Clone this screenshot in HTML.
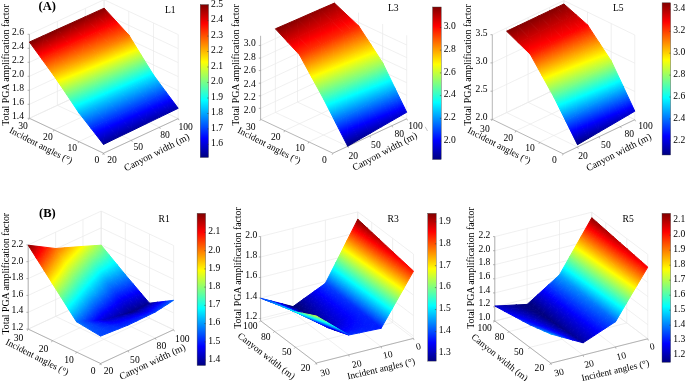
<!DOCTYPE html>
<html><head><meta charset="utf-8"><title>Total PGA amplification factor</title>
<style>html,body{margin:0;padding:0;background:#fff}svg{display:block}text{font-family:"Liberation Serif", "Times New Roman", serif;fill:#000}</style>
</head><body>
<svg width="685" height="381" viewBox="0 0 685 381">
<defs><linearGradient id="jet" gradientUnits="userSpaceOnUse"><stop offset="0" stop-color="#000080"/><stop offset="0.125" stop-color="#0000ff"/><stop offset="0.375" stop-color="#00ffff"/><stop offset="0.625" stop-color="#ffff00"/><stop offset="0.875" stop-color="#ff0000"/><stop offset="1" stop-color="#800000"/></linearGradient>
<linearGradient id="jv" x1="0" y1="1" x2="0" y2="0"><stop offset="0" stop-color="#000080"/><stop offset="0.125" stop-color="#0000ff"/><stop offset="0.375" stop-color="#00ffff"/><stop offset="0.625" stop-color="#ffff00"/><stop offset="0.875" stop-color="#ff0000"/><stop offset="1" stop-color="#800000"/></linearGradient></defs>
<rect width="685" height="381" fill="#fff"/>
<g id="L1">
<path d="M103.5 153.2L29.4 118.3M29.4 118.3L29.4 34.3M131.5 140.2L57.4 105.3M57.4 105.3L57.4 21.3M159.5 127.2L85.4 92.4M85.4 92.4L85.4 8.4M178.2 118.6L104.1 83.7M104.1 83.7L104.1 -0.3M103.5 153.2L178.2 118.6M178.2 118.6L178.2 34.6M78.8 141.6L153.5 107M153.5 107L153.5 23M54.1 129.9L128.8 95.3M128.8 95.3L128.8 11.3M29.4 118.3L104.1 83.7M104.1 83.7L104.1 -0.3M29.4 118.3L104.1 83.7M104.1 83.7L178.2 118.6M29.4 104.3L104.1 69.7M104.1 69.7L178.2 104.6M29.4 90.3L104.1 55.7M104.1 55.7L178.2 90.6M29.4 76.3L104.1 41.7M104.1 41.7L178.2 76.6M29.4 62.3L104.1 27.7M104.1 27.7L178.2 62.6M29.4 48.3L104.1 13.7M104.1 13.7L178.2 48.6M29.4 34.3L104.1 -0.3M104.1 -0.3L178.2 34.6" stroke="#e9e9e9" stroke-width="0.7" fill="none"/>
<path d="M29.4 118.3L29.4 34.3M103.5 153.2L178.2 118.6M103.5 153.2L29.4 118.3M29.4 118.3l-1.8 0M29.4 104.3l-1.8 0M29.4 90.3l-1.8 0M29.4 76.3l-1.8 0M29.4 62.3l-1.8 0M29.4 48.3l-1.8 0M29.4 34.3l-1.8 0M103.5 153.2l0.8 1.6M131.5 140.2l0.8 1.6M159.5 127.2l0.8 1.6M178.2 118.6l0.8 1.6M103.5 153.2l-0.8 1.6M78.8 141.6l-0.8 1.6M54.1 129.9l-0.8 1.6M29.4 118.3l-0.8 1.6" stroke="#969696" stroke-width="0.7" fill="none"/>
<defs><linearGradient id="g1" href="#jet" x1="158.4" y1="151.5" x2="99.8" y2="8.5"/><linearGradient id="g2" href="#jet" x1="164.7" y1="146.5" x2="98.9" y2="9.2"/><linearGradient id="g3" href="#jet" x1="147.4" y1="151.3" x2="90.4" y2="13.1"/><linearGradient id="g4" href="#jet" x1="153.1" y1="146.7" x2="89.6" y2="13.7"/><linearGradient id="g5" href="#jet" x1="157.3" y1="148.5" x2="107.4" y2="5.7"/><linearGradient id="g6" href="#jet" x1="162.7" y1="145" x2="105.7" y2="6.8"/><linearGradient id="g7" href="#jet" x1="146.7" y1="148.5" x2="97.7" y2="10.3"/><linearGradient id="g8" href="#jet" x1="151.7" y1="145.3" x2="96.1" y2="11.3"/><linearGradient id="g9" href="#jet" x1="131.7" y1="153.6" x2="76.2" y2="19.6"/><linearGradient id="g10" href="#jet" x1="136.2" y1="147.8" x2="75.5" y2="20.5"/><linearGradient id="g11" href="#jet" x1="115.7" y1="154.8" x2="62" y2="26.4"/><linearGradient id="g12" href="#jet" x1="119.6" y1="149.7" x2="61.3" y2="27.3"/><linearGradient id="g13" href="#jet" x1="131.3" y1="150.8" x2="83.1" y2="16.6"/><linearGradient id="g14" href="#jet" x1="135.3" y1="146.6" x2="81.6" y2="18.2"/><linearGradient id="g15" href="#jet" x1="115.7" y1="152.3" x2="68.5" y2="23.5"/><linearGradient id="g16" href="#jet" x1="119.2" y1="148.6" x2="67.1" y2="25"/><linearGradient id="g17" href="#jet" x1="99.9" y1="156.7" x2="47.8" y2="33.2"/><linearGradient id="g18" href="#jet" x1="103.4" y1="152.2" x2="47.2" y2="34"/><linearGradient id="g19" href="#jet" x1="84.2" y1="159.2" x2="33.7" y2="39.9"/><linearGradient id="g20" href="#jet" x1="87.4" y1="155.2" x2="33.1" y2="40.7"/><linearGradient id="g21" href="#jet" x1="100.2" y1="154.5" x2="54" y2="30.4"/><linearGradient id="g22" href="#jet" x1="103.2" y1="151.2" x2="52.7" y2="31.9"/><linearGradient id="g23" href="#jet" x1="84.8" y1="157.2" x2="39.5" y2="37.3"/><linearGradient id="g24" href="#jet" x1="87.4" y1="154.2" x2="38.2" y2="38.7"/><linearGradient id="g25" href="#jet" x1="155.6" y1="117.5" x2="112.7" y2="13.8"/><linearGradient id="g26" href="#jet" x1="154.9" y1="118" x2="113.3" y2="13.3"/><linearGradient id="g27" href="#jet" x1="146" y1="121.8" x2="102.9" y2="17.5"/><linearGradient id="g28" href="#jet" x1="145.3" y1="122.4" x2="103.5" y2="17"/><linearGradient id="g29" href="#jet" x1="159.8" y1="116" x2="115.3" y2="12.7"/><linearGradient id="g30" href="#jet" x1="159.3" y1="116.4" x2="116.2" y2="12"/><linearGradient id="g31" href="#jet" x1="150.3" y1="120.4" x2="105.6" y2="16.4"/><linearGradient id="g32" href="#jet" x1="149.8" y1="120.7" x2="106.4" y2="15.7"/><linearGradient id="g33" href="#jet" x1="131.6" y1="128.2" x2="88.2" y2="23.2"/><linearGradient id="g34" href="#jet" x1="130.9" y1="129" x2="88.8" y2="22.5"/><linearGradient id="g35" href="#jet" x1="117.2" y1="134.8" x2="73.5" y2="28.7"/><linearGradient id="g36" href="#jet" x1="116.5" y1="135.6" x2="74.1" y2="28"/><linearGradient id="g37" href="#jet" x1="136" y1="126.8" x2="91" y2="22.1"/><linearGradient id="g38" href="#jet" x1="135.5" y1="127.3" x2="91.8" y2="21.1"/><linearGradient id="g39" href="#jet" x1="121.7" y1="133.3" x2="76.3" y2="27.5"/><linearGradient id="g40" href="#jet" x1="121.3" y1="133.8" x2="77.2" y2="26.5"/><linearGradient id="g41" href="#jet" x1="102.8" y1="141.4" x2="58.8" y2="34.1"/><linearGradient id="g42" href="#jet" x1="102.1" y1="142.2" x2="59.4" y2="33.4"/><linearGradient id="g43" href="#jet" x1="88.4" y1="148" x2="44" y2="39.5"/><linearGradient id="g44" href="#jet" x1="87.7" y1="148.8" x2="44.7" y2="38.7"/><linearGradient id="g45" href="#jet" x1="107.5" y1="139.9" x2="61.7" y2="32.9"/><linearGradient id="g46" href="#jet" x1="107" y1="140.4" x2="62.6" y2="31.9"/><linearGradient id="g47" href="#jet" x1="93.2" y1="146.4" x2="47" y2="38.3"/><linearGradient id="g48" href="#jet" x1="92.8" y1="146.9" x2="48" y2="37.2"/><linearGradient id="g49" href="#jet" x1="166.4" y1="119.1" x2="115.7" y2="1.8"/><linearGradient id="g50" href="#jet" x1="166.2" y1="119.3" x2="116.5" y2="1.2"/><linearGradient id="g51" href="#jet" x1="156.9" y1="123.3" x2="106" y2="5.4"/><linearGradient id="g52" href="#jet" x1="156.7" y1="123.5" x2="106.8" y2="4.8"/><linearGradient id="g53" href="#jet" x1="170.8" y1="117.3" x2="119" y2="0.2"/><linearGradient id="g54" href="#jet" x1="170.8" y1="117.3" x2="120" y2="-0.6"/><linearGradient id="g55" href="#jet" x1="161.4" y1="121.5" x2="109.3" y2="3.8"/><linearGradient id="g56" href="#jet" x1="161.3" y1="121.5" x2="110.3" y2="3.1"/><linearGradient id="g57" href="#jet" x1="142.6" y1="129.6" x2="91.5" y2="11.2"/><linearGradient id="g58" href="#jet" x1="142.4" y1="129.8" x2="92.2" y2="10.3"/><linearGradient id="g59" href="#jet" x1="128.3" y1="135.9" x2="76.9" y2="16.6"/><linearGradient id="g60" href="#jet" x1="128.1" y1="136.1" x2="77.7" y2="15.7"/><linearGradient id="g61" href="#jet" x1="147.2" y1="127.8" x2="94.9" y2="9.6"/><linearGradient id="g62" href="#jet" x1="147.1" y1="127.8" x2="95.8" y2="8.5"/><linearGradient id="g63" href="#jet" x1="132.9" y1="134.1" x2="80.3" y2="15"/><linearGradient id="g64" href="#jet" x1="132.9" y1="134.1" x2="81.2" y2="13.9"/><linearGradient id="g65" href="#jet" x1="114" y1="142.3" x2="62.3" y2="22"/><linearGradient id="g66" href="#jet" x1="113.9" y1="142.5" x2="63.1" y2="21.1"/><linearGradient id="g67" href="#jet" x1="99.8" y1="148.6" x2="47.7" y2="27.4"/><linearGradient id="g68" href="#jet" x1="99.6" y1="148.8" x2="48.5" y2="26.5"/><linearGradient id="g69" href="#jet" x1="118.7" y1="140.4" x2="65.8" y2="20.4"/><linearGradient id="g70" href="#jet" x1="118.7" y1="140.4" x2="66.7" y2="19.3"/><linearGradient id="g71" href="#jet" x1="104.5" y1="146.7" x2="51.2" y2="25.8"/><linearGradient id="g72" href="#jet" x1="104.5" y1="146.7" x2="52.1" y2="24.6"/></defs>
<g stroke-width="1" stroke-linejoin="round"><polygon points="107.1,26.3 116.4,21.6 104.1,8.2" fill="url(#g1)" stroke="url(#g1)"/><polygon points="107.1,26.3 104.1,8.2 94.8,12.4" fill="url(#g2)" stroke="url(#g2)"/><polygon points="97.8,30.9 107.1,26.3 94.8,12.4" fill="url(#g3)" stroke="url(#g3)"/><polygon points="97.8,30.9 94.8,12.4 85.4,16.7" fill="url(#g4)" stroke="url(#g4)"/><polygon points="119.5,40.1 128.8,35 116.4,21.6" fill="url(#g5)" stroke="url(#g5)"/><polygon points="119.5,40.1 116.4,21.6 107.1,26.3" fill="url(#g6)" stroke="url(#g6)"/><polygon points="110.1,45.3 119.5,40.1 107.1,26.3" fill="url(#g7)" stroke="url(#g7)"/><polygon points="110.1,45.3 107.1,26.3 97.8,30.9" fill="url(#g8)" stroke="url(#g8)"/><polygon points="83.8,38 97.8,30.9 85.4,16.7" fill="url(#g9)" stroke="url(#g9)"/><polygon points="83.8,38 85.4,16.7 71.4,23" fill="url(#g10)" stroke="url(#g10)"/><polygon points="69.8,45 83.8,38 71.4,23" fill="url(#g11)" stroke="url(#g11)"/><polygon points="69.8,45 71.4,23 57.4,29.3" fill="url(#g12)" stroke="url(#g12)"/><polygon points="96.1,52.9 110.1,45.3 97.8,30.9" fill="url(#g13)" stroke="url(#g13)"/><polygon points="96.1,52.9 97.8,30.9 83.8,38" fill="url(#g14)" stroke="url(#g14)"/><polygon points="82.1,60.6 96.1,52.9 83.8,38" fill="url(#g15)" stroke="url(#g15)"/><polygon points="82.1,60.6 83.8,38 69.8,45" fill="url(#g16)" stroke="url(#g16)"/><polygon points="55.8,52 69.8,45 57.4,29.3" fill="url(#g17)" stroke="url(#g17)"/><polygon points="55.8,52 57.4,29.3 43.4,35.7" fill="url(#g18)" stroke="url(#g18)"/><polygon points="41.8,59 55.8,52 43.4,35.7" fill="url(#g19)" stroke="url(#g19)"/><polygon points="41.8,59 43.4,35.7 29.4,42" fill="url(#g20)" stroke="url(#g20)"/><polygon points="68.1,68.3 82.1,60.6 69.8,45" fill="url(#g21)" stroke="url(#g21)"/><polygon points="68.1,68.3 69.8,45 55.8,52" fill="url(#g22)" stroke="url(#g22)"/><polygon points="54.1,76 68.1,68.3 55.8,52" fill="url(#g23)" stroke="url(#g23)"/><polygon points="54.1,76 55.8,52 41.8,59" fill="url(#g24)" stroke="url(#g24)"/><polygon points="131.8,59.9 141.1,55 128.8,35" fill="url(#g25)" stroke="url(#g25)"/><polygon points="131.8,59.9 128.8,35 119.5,40.1" fill="url(#g26)" stroke="url(#g26)"/><polygon points="122.5,64.8 131.8,59.9 119.5,40.1" fill="url(#g27)" stroke="url(#g27)"/><polygon points="122.5,64.8 119.5,40.1 110.1,45.3" fill="url(#g28)" stroke="url(#g28)"/><polygon points="144.2,79.7 153.5,75 141.1,55" fill="url(#g29)" stroke="url(#g29)"/><polygon points="144.2,79.7 141.1,55 131.8,59.9" fill="url(#g30)" stroke="url(#g30)"/><polygon points="134.8,84.4 144.2,79.7 131.8,59.9" fill="url(#g31)" stroke="url(#g31)"/><polygon points="134.8,84.4 131.8,59.9 122.5,64.8" fill="url(#g32)" stroke="url(#g32)"/><polygon points="108.5,72.2 122.5,64.8 110.1,45.3" fill="url(#g33)" stroke="url(#g33)"/><polygon points="108.5,72.2 110.1,45.3 96.1,52.9" fill="url(#g34)" stroke="url(#g34)"/><polygon points="94.5,79.6 108.5,72.2 96.1,52.9" fill="url(#g35)" stroke="url(#g35)"/><polygon points="94.5,79.6 96.1,52.9 82.1,60.6" fill="url(#g36)" stroke="url(#g36)"/><polygon points="120.8,91.5 134.8,84.4 122.5,64.8" fill="url(#g37)" stroke="url(#g37)"/><polygon points="120.8,91.5 122.5,64.8 108.5,72.2" fill="url(#g38)" stroke="url(#g38)"/><polygon points="106.8,98.6 120.8,91.5 108.5,72.2" fill="url(#g39)" stroke="url(#g39)"/><polygon points="106.8,98.6 108.5,72.2 94.5,79.6" fill="url(#g40)" stroke="url(#g40)"/><polygon points="80.5,87 94.5,79.6 82.1,60.6" fill="url(#g41)" stroke="url(#g41)"/><polygon points="80.5,87 82.1,60.6 68.1,68.3" fill="url(#g42)" stroke="url(#g42)"/><polygon points="66.5,94.3 80.5,87 68.1,68.3" fill="url(#g43)" stroke="url(#g43)"/><polygon points="66.5,94.3 68.1,68.3 54.1,76" fill="url(#g44)" stroke="url(#g44)"/><polygon points="92.8,105.6 106.8,98.6 94.5,79.6" fill="url(#g45)" stroke="url(#g45)"/><polygon points="92.8,105.6 94.5,79.6 80.5,87" fill="url(#g46)" stroke="url(#g46)"/><polygon points="78.8,112.7 92.8,105.6 80.5,87" fill="url(#g47)" stroke="url(#g47)"/><polygon points="78.8,112.7 80.5,87 66.5,94.3" fill="url(#g48)" stroke="url(#g48)"/><polygon points="156.5,96.3 165.8,91.7 153.5,75" fill="url(#g49)" stroke="url(#g49)"/><polygon points="156.5,96.3 153.5,75 144.2,79.7" fill="url(#g50)" stroke="url(#g50)"/><polygon points="147.2,100.9 156.5,96.3 144.2,79.7" fill="url(#g51)" stroke="url(#g51)"/><polygon points="147.2,100.9 144.2,79.7 134.8,84.4" fill="url(#g52)" stroke="url(#g52)"/><polygon points="168.9,112.8 178.2,108.3 165.8,91.7" fill="url(#g53)" stroke="url(#g53)"/><polygon points="168.9,112.8 165.8,91.7 156.5,96.3" fill="url(#g54)" stroke="url(#g54)"/><polygon points="159.5,117.3 168.9,112.8 156.5,96.3" fill="url(#g55)" stroke="url(#g55)"/><polygon points="159.5,117.3 156.5,96.3 147.2,100.9" fill="url(#g56)" stroke="url(#g56)"/><polygon points="133.2,107.8 147.2,100.9 134.8,84.4" fill="url(#g57)" stroke="url(#g57)"/><polygon points="133.2,107.8 134.8,84.4 120.8,91.5" fill="url(#g58)" stroke="url(#g58)"/><polygon points="119.2,114.7 133.2,107.8 120.8,91.5" fill="url(#g59)" stroke="url(#g59)"/><polygon points="119.2,114.7 120.8,91.5 106.8,98.6" fill="url(#g60)" stroke="url(#g60)"/><polygon points="145.5,124.1 159.5,117.3 147.2,100.9" fill="url(#g61)" stroke="url(#g61)"/><polygon points="145.5,124.1 147.2,100.9 133.2,107.8" fill="url(#g62)" stroke="url(#g62)"/><polygon points="131.5,130.9 145.5,124.1 133.2,107.8" fill="url(#g63)" stroke="url(#g63)"/><polygon points="131.5,130.9 133.2,107.8 119.2,114.7" fill="url(#g64)" stroke="url(#g64)"/><polygon points="105.2,121.6 119.2,114.7 106.8,98.6" fill="url(#g65)" stroke="url(#g65)"/><polygon points="105.2,121.6 106.8,98.6 92.8,105.6" fill="url(#g66)" stroke="url(#g66)"/><polygon points="91.2,128.6 105.2,121.6 92.8,105.6" fill="url(#g67)" stroke="url(#g67)"/><polygon points="91.2,128.6 92.8,105.6 78.8,112.7" fill="url(#g68)" stroke="url(#g68)"/><polygon points="117.5,137.6 131.5,130.9 119.2,114.7" fill="url(#g69)" stroke="url(#g69)"/><polygon points="117.5,137.6 119.2,114.7 105.2,121.6" fill="url(#g70)" stroke="url(#g70)"/><polygon points="103.5,144.4 117.5,137.6 105.2,121.6" fill="url(#g71)" stroke="url(#g71)"/><polygon points="103.5,144.4 105.2,121.6 91.2,128.6" fill="url(#g72)" stroke="url(#g72)"/></g>
<text x="24" y="118.8" font-size="9.6" text-anchor="end">1.4</text>
<text x="24" y="104.8" font-size="9.6" text-anchor="end">1.6</text>
<text x="24" y="90.9" font-size="9.6" text-anchor="end">1.8</text>
<text x="24" y="76.9" font-size="9.6" text-anchor="end">2.0</text>
<text x="24" y="62.9" font-size="9.6" text-anchor="end">2.2</text>
<text x="24" y="49" font-size="9.6" text-anchor="end">2.4</text>
<text x="24" y="35" font-size="9.6" text-anchor="end">2.6</text>
<text x="112" y="163.1" font-size="9.6" text-anchor="middle">20</text>
<text x="138.3" y="149.7" font-size="9.6" text-anchor="middle">50</text>
<text x="165.1" y="137.9" font-size="9.6" text-anchor="middle">80</text>
<text x="185.7" y="129.6" font-size="9.6" text-anchor="middle">100</text>
<text x="96.9" y="163.1" font-size="9.6" text-anchor="middle">0</text>
<text x="72.2" y="151" font-size="9.6" text-anchor="middle">10</text>
<text x="47.9" y="140" font-size="9.6" text-anchor="middle">20</text>
<text x="23" y="128.9" font-size="9.6" text-anchor="middle">30</text>
<text x="8.7" y="65" font-size="9.8" text-anchor="middle" transform="rotate(-90 8.7 65)">Total PGA amplification factor</text>
<text x="158.1" y="155.2" font-size="9.8" text-anchor="middle" transform="rotate(-27 158.1 155.2)">Canyon width (m)</text>
<text x="39.6" y="148.2" font-size="9.4" text-anchor="middle" transform="rotate(27.2 39.6 148.2)">Incident angles (°)</text>
<text x="165" y="12.8" font-size="9.6" text-anchor="start">L1</text>
<rect x="200.2" y="4.6" width="8.3" height="152.9" fill="url(#jv)" stroke="#444" stroke-width="0.4"/>
<text x="211.1" y="6.9" font-size="9.6" text-anchor="start">2.5</text>
<text x="211.1" y="22.4" font-size="9.6" text-anchor="start">2.4</text>
<text x="211.1" y="37.9" font-size="9.6" text-anchor="start">2.3</text>
<text x="211.1" y="53.3" font-size="9.6" text-anchor="start">2.2</text>
<text x="211.1" y="68.8" font-size="9.6" text-anchor="start">2.1</text>
<text x="211.1" y="84.3" font-size="9.6" text-anchor="start">2.0</text>
<text x="211.1" y="99.8" font-size="9.6" text-anchor="start">1.9</text>
<text x="211.1" y="115.3" font-size="9.6" text-anchor="start">1.8</text>
<text x="211.1" y="130.7" font-size="9.6" text-anchor="start">1.7</text>
<text x="211.1" y="146.2" font-size="9.6" text-anchor="start">1.6</text>
<path d="M208.5 5.1l-1.3 0M208.5 20.6l-1.3 0M208.5 36.1l-1.3 0M208.5 51.5l-1.3 0M208.5 67l-1.3 0M208.5 82.5l-1.3 0M208.5 98l-1.3 0M208.5 113.5l-1.3 0M208.5 128.9l-1.3 0M208.5 144.4l-1.3 0" stroke="#333" stroke-width="0.5"/>
</g>
<g id="L3">
<path d="M347.7 146.3L275.4 112.4M275.4 112.4L275.4 28.9M369.8 136L297.5 102.1M297.5 102.1L297.5 18.6M391.9 125.7L319.6 91.8M319.6 91.8L319.6 8.3M406.7 118.8L334.4 84.9M334.4 84.9L334.4 1.4M332.9 153.2L406.7 118.8M406.7 118.8L406.7 35.3M308.8 141.9L382.6 107.5M382.6 107.5L382.6 24M284.7 130.6L358.5 96.2M358.5 96.2L358.5 12.7M260.6 119.3L334.4 84.9M334.4 84.9L334.4 1.4M260.6 108.3L334.4 73.9M334.4 73.9L406.7 107.8M260.6 95.8L334.4 61.4M334.4 61.4L406.7 95.3M260.6 83.2L334.4 48.8M334.4 48.8L406.7 82.7M260.6 70.6L334.4 36.2M334.4 36.2L406.7 70.1M260.6 58.1L334.4 23.7M334.4 23.7L406.7 57.6M260.6 45.5L334.4 11.1M334.4 11.1L406.7 45" stroke="#e9e9e9" stroke-width="0.7" fill="none"/>
<path d="M260.6 119.3L260.6 35.8M332.9 153.2L406.7 118.8M332.9 153.2L260.6 119.3M260.6 108.3l-1.8 0M260.6 95.8l-1.8 0M260.6 83.2l-1.8 0M260.6 70.6l-1.8 0M260.6 58.1l-1.8 0M260.6 45.5l-1.8 0M347.7 146.3l0.8 1.6M369.8 136l0.8 1.6M391.9 125.7l0.8 1.6M406.7 118.8l0.8 1.6M332.9 153.2l-0.8 1.6M308.8 141.9l-0.8 1.6M284.7 130.6l-0.8 1.6M260.6 119.3l-0.8 1.6" stroke="#969696" stroke-width="0.7" fill="none"/>
<defs><linearGradient id="g73" href="#jet" x1="426.9" y1="203.9" x2="330.3" y2="-0.6"/><linearGradient id="g74" href="#jet" x1="434.6" y1="198.4" x2="329.6" y2="-0.1"/><linearGradient id="g75" href="#jet" x1="417.4" y1="203.1" x2="323.2" y2="3.3"/><linearGradient id="g76" href="#jet" x1="424.7" y1="197.9" x2="322.5" y2="3.8"/><linearGradient id="g77" href="#jet" x1="423.1" y1="201.3" x2="337.3" y2="-3.5"/><linearGradient id="g78" href="#jet" x1="430.2" y1="197.1" x2="335.9" y2="-2.7"/><linearGradient id="g79" href="#jet" x1="414.2" y1="200.5" x2="330" y2="0.4"/><linearGradient id="g80" href="#jet" x1="420.8" y1="196.6" x2="328.7" y2="1.2"/><linearGradient id="g81" href="#jet" x1="404.5" y1="204.3" x2="312.3" y2="8.9"/><linearGradient id="g82" href="#jet" x1="410.2" y1="197.5" x2="311.8" y2="9.5"/><linearGradient id="g83" href="#jet" x1="390.8" y1="203.9" x2="301.6" y2="14.6"/><linearGradient id="g84" href="#jet" x1="396.1" y1="197.7" x2="301.1" y2="15.2"/><linearGradient id="g85" href="#jet" x1="401.6" y1="201.7" x2="318.9" y2="5.9"/><linearGradient id="g86" href="#jet" x1="407" y1="196.3" x2="317.8" y2="7"/><linearGradient id="g87" href="#jet" x1="388.4" y1="201.5" x2="307.9" y2="11.7"/><linearGradient id="g88" href="#jet" x1="393.4" y1="196.5" x2="306.9" y2="12.7"/><linearGradient id="g89" href="#jet" x1="377.3" y1="204.1" x2="290.8" y2="20.3"/><linearGradient id="g90" href="#jet" x1="382.2" y1="198.3" x2="290.3" y2="20.9"/><linearGradient id="g91" href="#jet" x1="364.1" y1="204.6" x2="280" y2="26"/><linearGradient id="g92" href="#jet" x1="368.7" y1="199.3" x2="279.5" y2="26.5"/><linearGradient id="g93" href="#jet" x1="375.4" y1="201.8" x2="296.9" y2="17.4"/><linearGradient id="g94" href="#jet" x1="380.1" y1="197.1" x2="296" y2="18.4"/><linearGradient id="g95" href="#jet" x1="362.6" y1="202.5" x2="285.9" y2="23.2"/><linearGradient id="g96" href="#jet" x1="366.9" y1="198.1" x2="285" y2="24.1"/><linearGradient id="g97" href="#jet" x1="398.5" y1="137.7" x2="346.6" y2="6.4"/><linearGradient id="g98" href="#jet" x1="401.9" y1="135.4" x2="345" y2="7.5"/><linearGradient id="g99" href="#jet" x1="390.4" y1="139.3" x2="339" y2="10.2"/><linearGradient id="g100" href="#jet" x1="393.6" y1="137.2" x2="337.4" y2="11.2"/><linearGradient id="g101" href="#jet" x1="399.4" y1="136.2" x2="353.1" y2="4.2"/><linearGradient id="g102" href="#jet" x1="402" y1="134.7" x2="350.7" y2="5.5"/><linearGradient id="g103" href="#jet" x1="391.3" y1="137.9" x2="345.2" y2="8"/><linearGradient id="g104" href="#jet" x1="393.7" y1="136.5" x2="342.9" y2="9.3"/><linearGradient id="g105" href="#jet" x1="378.4" y1="142.7" x2="327.5" y2="15.5"/><linearGradient id="g106" href="#jet" x1="381.1" y1="140" x2="326.1" y2="16.8"/><linearGradient id="g107" href="#jet" x1="366.3" y1="145.6" x2="316.1" y2="21.1"/><linearGradient id="g108" href="#jet" x1="368.8" y1="143.2" x2="314.7" y2="22.4"/><linearGradient id="g109" href="#jet" x1="379.2" y1="141.3" x2="333.4" y2="13.2"/><linearGradient id="g110" href="#jet" x1="381.3" y1="139.5" x2="331.2" y2="15"/><linearGradient id="g111" href="#jet" x1="367.1" y1="144.3" x2="321.6" y2="18.9"/><linearGradient id="g112" href="#jet" x1="369" y1="142.7" x2="319.5" y2="20.7"/><linearGradient id="g113" href="#jet" x1="354.2" y1="148.7" x2="304.7" y2="26.6"/><linearGradient id="g114" href="#jet" x1="356.5" y1="146.5" x2="303.4" y2="27.9"/><linearGradient id="g115" href="#jet" x1="342.2" y1="152" x2="293.3" y2="32.2"/><linearGradient id="g116" href="#jet" x1="344.3" y1="149.9" x2="292" y2="33.5"/><linearGradient id="g117" href="#jet" x1="354.9" y1="147.6" x2="309.8" y2="24.5"/><linearGradient id="g118" href="#jet" x1="356.6" y1="146.1" x2="307.8" y2="26.3"/><linearGradient id="g119" href="#jet" x1="342.8" y1="151" x2="298.1" y2="30.2"/><linearGradient id="g120" href="#jet" x1="344.4" y1="149.7" x2="296" y2="31.9"/><linearGradient id="g121" href="#jet" x1="400.3" y1="124.9" x2="356.1" y2="13.2"/><linearGradient id="g122" href="#jet" x1="400.1" y1="125" x2="356.7" y2="12.7"/><linearGradient id="g123" href="#jet" x1="392.5" y1="128.1" x2="348.1" y2="16"/><linearGradient id="g124" href="#jet" x1="392.2" y1="128.3" x2="348.8" y2="15.6"/><linearGradient id="g125" href="#jet" x1="402.4" y1="124.1" x2="357.1" y2="12.7"/><linearGradient id="g126" href="#jet" x1="402.3" y1="124.2" x2="358" y2="12.1"/><linearGradient id="g127" href="#jet" x1="394.6" y1="127.3" x2="349.2" y2="15.6"/><linearGradient id="g128" href="#jet" x1="394.5" y1="127.4" x2="350.1" y2="15"/><linearGradient id="g129" href="#jet" x1="380.7" y1="132.8" x2="336.3" y2="20.5"/><linearGradient id="g130" href="#jet" x1="380.4" y1="133.1" x2="337" y2="19.9"/><linearGradient id="g131" href="#jet" x1="368.9" y1="137.6" x2="324.4" y2="24.8"/><linearGradient id="g132" href="#jet" x1="368.6" y1="137.8" x2="325.1" y2="24.2"/><linearGradient id="g133" href="#jet" x1="382.9" y1="132.1" x2="337.4" y2="20.1"/><linearGradient id="g134" href="#jet" x1="382.8" y1="132.1" x2="338.3" y2="19.3"/><linearGradient id="g135" href="#jet" x1="371.2" y1="136.9" x2="325.6" y2="24.3"/><linearGradient id="g136" href="#jet" x1="371.1" y1="136.9" x2="326.5" y2="23.5"/><linearGradient id="g137" href="#jet" x1="357.1" y1="142.4" x2="312.4" y2="29"/><linearGradient id="g138" href="#jet" x1="356.8" y1="142.6" x2="313.2" y2="28.4"/><linearGradient id="g139" href="#jet" x1="345.3" y1="147.2" x2="300.5" y2="33.3"/><linearGradient id="g140" href="#jet" x1="345.1" y1="147.4" x2="301.3" y2="32.6"/><linearGradient id="g141" href="#jet" x1="359.4" y1="141.6" x2="313.7" y2="28.6"/><linearGradient id="g142" href="#jet" x1="359.4" y1="141.6" x2="314.7" y2="27.7"/><linearGradient id="g143" href="#jet" x1="347.7" y1="146.4" x2="301.9" y2="32.8"/><linearGradient id="g144" href="#jet" x1="347.7" y1="146.4" x2="302.9" y2="31.9"/></defs>
<g stroke-width="1" stroke-linejoin="round"><polygon points="339.1,17.9 346.5,14.5 334.4,3.1" fill="url(#g73)" stroke="url(#g73)"/><polygon points="339.1,17.9 334.4,3.1 327,6.3" fill="url(#g74)" stroke="url(#g74)"/><polygon points="331.7,21.3 339.1,17.9 327,6.3" fill="url(#g75)" stroke="url(#g75)"/><polygon points="331.7,21.3 327,6.3 319.6,9.5" fill="url(#g76)" stroke="url(#g76)"/><polygon points="351.1,29.4 358.5,25.8 346.5,14.5" fill="url(#g77)" stroke="url(#g77)"/><polygon points="351.1,29.4 346.5,14.5 339.1,17.9" fill="url(#g78)" stroke="url(#g78)"/><polygon points="343.7,33.1 351.1,29.4 339.1,17.9" fill="url(#g79)" stroke="url(#g79)"/><polygon points="343.7,33.1 339.1,17.9 331.7,21.3" fill="url(#g80)" stroke="url(#g80)"/><polygon points="320.6,26.4 331.7,21.3 319.6,9.5" fill="url(#g81)" stroke="url(#g81)"/><polygon points="320.6,26.4 319.6,9.5 308.6,14.3" fill="url(#g82)" stroke="url(#g82)"/><polygon points="309.6,31.5 320.6,26.4 308.6,14.3" fill="url(#g83)" stroke="url(#g83)"/><polygon points="309.6,31.5 308.6,14.3 297.5,19.2" fill="url(#g84)" stroke="url(#g84)"/><polygon points="332.7,38.5 343.7,33.1 331.7,21.3" fill="url(#g85)" stroke="url(#g85)"/><polygon points="332.7,38.5 331.7,21.3 320.6,26.4" fill="url(#g86)" stroke="url(#g86)"/><polygon points="321.6,43.9 332.7,38.5 320.6,26.4" fill="url(#g87)" stroke="url(#g87)"/><polygon points="321.6,43.9 320.6,26.4 309.6,31.5" fill="url(#g88)" stroke="url(#g88)"/><polygon points="298.5,36.7 309.6,31.5 297.5,19.2" fill="url(#g89)" stroke="url(#g89)"/><polygon points="298.5,36.7 297.5,19.2 286.4,24" fill="url(#g90)" stroke="url(#g90)"/><polygon points="287.4,41.8 298.5,36.7 286.4,24" fill="url(#g91)" stroke="url(#g91)"/><polygon points="287.4,41.8 286.4,24 275.4,28.8" fill="url(#g92)" stroke="url(#g92)"/><polygon points="310.5,49.4 321.6,43.9 309.6,31.5" fill="url(#g93)" stroke="url(#g93)"/><polygon points="310.5,49.4 309.6,31.5 298.5,36.7" fill="url(#g94)" stroke="url(#g94)"/><polygon points="299.5,54.8 310.5,49.4 298.5,36.7" fill="url(#g95)" stroke="url(#g95)"/><polygon points="299.5,54.8 298.5,36.7 287.4,41.8" fill="url(#g96)" stroke="url(#g96)"/><polygon points="363.2,48.3 370.6,44.2 358.5,25.8" fill="url(#g97)" stroke="url(#g97)"/><polygon points="363.2,48.3 358.5,25.8 351.1,29.4" fill="url(#g98)" stroke="url(#g98)"/><polygon points="355.8,52.4 363.2,48.3 351.1,29.4" fill="url(#g99)" stroke="url(#g99)"/><polygon points="355.8,52.4 351.1,29.4 343.7,33.1" fill="url(#g100)" stroke="url(#g100)"/><polygon points="375.2,67.2 382.6,62.7 370.6,44.2" fill="url(#g101)" stroke="url(#g101)"/><polygon points="375.2,67.2 370.6,44.2 363.2,48.3" fill="url(#g102)" stroke="url(#g102)"/><polygon points="367.8,71.8 375.2,67.2 363.2,48.3" fill="url(#g103)" stroke="url(#g103)"/><polygon points="367.8,71.8 363.2,48.3 355.8,52.4" fill="url(#g104)" stroke="url(#g104)"/><polygon points="344.7,58.5 355.8,52.4 343.7,33.1" fill="url(#g105)" stroke="url(#g105)"/><polygon points="344.7,58.5 343.7,33.1 332.7,38.5" fill="url(#g106)" stroke="url(#g106)"/><polygon points="333.6,64.7 344.7,58.5 332.7,38.5" fill="url(#g107)" stroke="url(#g107)"/><polygon points="333.6,64.7 332.7,38.5 321.6,43.9" fill="url(#g108)" stroke="url(#g108)"/><polygon points="356.8,78.6 367.8,71.8 355.8,52.4" fill="url(#g109)" stroke="url(#g109)"/><polygon points="356.8,78.6 355.8,52.4 344.7,58.5" fill="url(#g110)" stroke="url(#g110)"/><polygon points="345.7,85.4 356.8,78.6 344.7,58.5" fill="url(#g111)" stroke="url(#g111)"/><polygon points="345.7,85.4 344.7,58.5 333.6,64.7" fill="url(#g112)" stroke="url(#g112)"/><polygon points="322.6,70.8 333.6,64.7 321.6,43.9" fill="url(#g113)" stroke="url(#g113)"/><polygon points="322.6,70.8 321.6,43.9 310.5,49.4" fill="url(#g114)" stroke="url(#g114)"/><polygon points="311.5,76.9 322.6,70.8 310.5,49.4" fill="url(#g115)" stroke="url(#g115)"/><polygon points="311.5,76.9 310.5,49.4 299.5,54.8" fill="url(#g116)" stroke="url(#g116)"/><polygon points="334.6,92.2 345.7,85.4 333.6,64.7" fill="url(#g117)" stroke="url(#g117)"/><polygon points="334.6,92.2 333.6,64.7 322.6,70.8" fill="url(#g118)" stroke="url(#g118)"/><polygon points="323.6,99 334.6,92.2 322.6,70.8" fill="url(#g119)" stroke="url(#g119)"/><polygon points="323.6,99 322.6,70.8 311.5,76.9" fill="url(#g120)" stroke="url(#g120)"/><polygon points="387.3,91.9 394.6,87.5 382.6,62.7" fill="url(#g121)" stroke="url(#g121)"/><polygon points="387.3,91.9 382.6,62.7 375.2,67.2" fill="url(#g122)" stroke="url(#g122)"/><polygon points="379.9,96.3 387.3,91.9 375.2,67.2" fill="url(#g123)" stroke="url(#g123)"/><polygon points="379.9,96.3 375.2,67.2 367.8,71.8" fill="url(#g124)" stroke="url(#g124)"/><polygon points="399.3,116.5 406.7,112.3 394.6,87.5" fill="url(#g125)" stroke="url(#g125)"/><polygon points="399.3,116.5 394.6,87.5 387.3,91.9" fill="url(#g126)" stroke="url(#g126)"/><polygon points="391.9,120.8 399.3,116.5 387.3,91.9" fill="url(#g127)" stroke="url(#g127)"/><polygon points="391.9,120.8 387.3,91.9 379.9,96.3" fill="url(#g128)" stroke="url(#g128)"/><polygon points="368.8,102.9 379.9,96.3 367.8,71.8" fill="url(#g129)" stroke="url(#g129)"/><polygon points="368.8,102.9 367.8,71.8 356.8,78.6" fill="url(#g130)" stroke="url(#g130)"/><polygon points="357.7,109.4 368.8,102.9 356.8,78.6" fill="url(#g131)" stroke="url(#g131)"/><polygon points="357.7,109.4 356.8,78.6 345.7,85.4" fill="url(#g132)" stroke="url(#g132)"/><polygon points="380.9,127.1 391.9,120.8 379.9,96.3" fill="url(#g133)" stroke="url(#g133)"/><polygon points="380.9,127.1 379.9,96.3 368.8,102.9" fill="url(#g134)" stroke="url(#g134)"/><polygon points="369.8,133.5 380.9,127.1 368.8,102.9" fill="url(#g135)" stroke="url(#g135)"/><polygon points="369.8,133.5 368.8,102.9 357.7,109.4" fill="url(#g136)" stroke="url(#g136)"/><polygon points="346.7,116 357.7,109.4 345.7,85.4" fill="url(#g137)" stroke="url(#g137)"/><polygon points="346.7,116 345.7,85.4 334.6,92.2" fill="url(#g138)" stroke="url(#g138)"/><polygon points="335.6,122.6 346.7,116 334.6,92.2" fill="url(#g139)" stroke="url(#g139)"/><polygon points="335.6,122.6 334.6,92.2 323.6,99" fill="url(#g140)" stroke="url(#g140)"/><polygon points="358.7,139.8 369.8,133.5 357.7,109.4" fill="url(#g141)" stroke="url(#g141)"/><polygon points="358.7,139.8 357.7,109.4 346.7,116" fill="url(#g142)" stroke="url(#g142)"/><polygon points="347.7,146.2 358.7,139.8 346.7,116" fill="url(#g143)" stroke="url(#g143)"/><polygon points="347.7,146.2 346.7,116 335.6,122.6" fill="url(#g144)" stroke="url(#g144)"/></g>
<text x="255.8" y="113.4" font-size="9.6" text-anchor="end">2.0</text>
<text x="255.8" y="100" font-size="9.6" text-anchor="end">2.2</text>
<text x="255.8" y="86.6" font-size="9.6" text-anchor="end">2.4</text>
<text x="255.8" y="73.1" font-size="9.6" text-anchor="end">2.6</text>
<text x="255.8" y="59.7" font-size="9.6" text-anchor="end">2.8</text>
<text x="255.8" y="46.3" font-size="9.6" text-anchor="end">3.0</text>
<text x="353.3" y="158.7" font-size="9.6" text-anchor="middle">20</text>
<text x="375.9" y="148.4" font-size="9.6" text-anchor="middle">50</text>
<text x="399.3" y="137.4" font-size="9.6" text-anchor="middle">80</text>
<text x="415.5" y="129.1" font-size="9.6" text-anchor="middle">100</text>
<text x="324.4" y="163.1" font-size="9.6" text-anchor="middle">0</text>
<text x="300.1" y="151" font-size="9.6" text-anchor="middle">10</text>
<text x="275.7" y="140" font-size="9.6" text-anchor="middle">20</text>
<text x="250.7" y="129.6" font-size="9.6" text-anchor="middle">30</text>
<text x="239" y="65" font-size="9.8" text-anchor="middle" transform="rotate(-90 239 65)">Total PGA amplification factor</text>
<text x="386.2" y="154.2" font-size="9.8" text-anchor="middle" transform="rotate(-28 386.2 154.2)">Canyon width (m)</text>
<text x="267.9" y="148.2" font-size="9.4" text-anchor="middle" transform="rotate(27.2 267.9 148.2)">Incident angles (°)</text>
<text x="388" y="11.3" font-size="9.6" text-anchor="start">L3</text>
<rect x="432.6" y="7" width="8.6" height="152.5" fill="url(#jv)" stroke="#444" stroke-width="0.4"/>
<text x="443.8" y="29.3" font-size="9.6" text-anchor="start">3.0</text>
<text x="443.8" y="52" font-size="9.6" text-anchor="start">2.8</text>
<text x="443.8" y="74.7" font-size="9.6" text-anchor="start">2.6</text>
<text x="443.8" y="97.4" font-size="9.6" text-anchor="start">2.4</text>
<text x="443.8" y="120.1" font-size="9.6" text-anchor="start">2.2</text>
<text x="443.8" y="142.8" font-size="9.6" text-anchor="start">2.0</text>
<path d="M441.2 27.5l-1.3 0M441.2 50.2l-1.3 0M441.2 72.9l-1.3 0M441.2 95.6l-1.3 0M441.2 118.3l-1.3 0M441.2 141l-1.3 0" stroke="#333" stroke-width="0.5"/>
</g>
<g id="L5">
<path d="M577.5 147L506.6 112.6M506.6 112.6L506.6 27.9M599 136.8L528.1 102.3M528.1 102.3L528.1 17.6M620.5 126.5L549.6 92.1M549.6 92.1L549.6 7.4M634.8 119.7L563.9 85.3M563.9 85.3L563.9 0.6M563.2 153.8L634.8 119.7M634.8 119.7L634.8 35M539.6 142.3L611.2 108.2M611.2 108.2L611.2 23.5M515.9 130.9L587.5 96.8M587.5 96.8L587.5 12.1M492.3 119.4L563.9 85.3M563.9 85.3L563.9 0.6M492.3 119.4L563.9 85.3M563.9 85.3L634.8 119.7M492.3 91.2L563.9 57.1M563.9 57.1L634.8 91.5M492.3 62.9L563.9 28.8M563.9 28.8L634.8 63.2M492.3 34.7L563.9 0.6M563.9 0.6L634.8 35" stroke="#e9e9e9" stroke-width="0.7" fill="none"/>
<path d="M492.3 119.4L492.3 34.7M563.2 153.8L634.8 119.7M563.2 153.8L492.3 119.4M492.3 119.4l-1.8 0M492.3 91.2l-1.8 0M492.3 62.9l-1.8 0M492.3 34.7l-1.8 0M577.5 147l0.8 1.6M599 136.8l0.8 1.6M620.5 126.5l0.8 1.6M634.8 119.7l0.8 1.6M563.2 153.8l-0.8 1.6M539.6 142.3l-0.8 1.6M515.9 130.9l-0.8 1.6M492.3 119.4l-0.8 1.6" stroke="#969696" stroke-width="0.7" fill="none"/>
<defs><linearGradient id="g145" href="#jet" x1="658.3" y1="224.2" x2="562.2" y2="3.4"/><linearGradient id="g146" href="#jet" x1="665.4" y1="220" x2="561.7" y2="3.7"/><linearGradient id="g147" href="#jet" x1="649.4" y1="223.3" x2="555" y2="6.9"/><linearGradient id="g148" href="#jet" x1="656.2" y1="219.3" x2="554.5" y2="7.2"/><linearGradient id="g149" href="#jet" x1="656.2" y1="220.8" x2="569.3" y2="0.6"/><linearGradient id="g150" href="#jet" x1="662.8" y1="217.5" x2="568.4" y2="1"/><linearGradient id="g151" href="#jet" x1="647.7" y1="220.1" x2="562" y2="4.1"/><linearGradient id="g152" href="#jet" x1="654" y1="216.9" x2="561.1" y2="4.5"/><linearGradient id="g153" href="#jet" x1="637" y1="224.3" x2="544.1" y2="11.9"/><linearGradient id="g154" href="#jet" x1="642.6" y1="218.6" x2="543.7" y2="12.4"/><linearGradient id="g155" href="#jet" x1="624" y1="223.7" x2="533.3" y2="17.2"/><linearGradient id="g156" href="#jet" x1="629.2" y1="218.4" x2="532.9" y2="17.6"/><linearGradient id="g157" href="#jet" x1="635.6" y1="221" x2="551" y2="9"/><linearGradient id="g158" href="#jet" x1="640.8" y1="216.3" x2="550.2" y2="9.8"/><linearGradient id="g159" href="#jet" x1="623" y1="220.6" x2="540.1" y2="14.3"/><linearGradient id="g160" href="#jet" x1="627.9" y1="216.2" x2="539.3" y2="15"/><linearGradient id="g161" href="#jet" x1="611.1" y1="223.6" x2="522.5" y2="22.4"/><linearGradient id="g162" href="#jet" x1="616" y1="218.6" x2="522.1" y2="22.8"/><linearGradient id="g163" href="#jet" x1="598.4" y1="223.8" x2="511.7" y2="27.6"/><linearGradient id="g164" href="#jet" x1="602.9" y1="219.2" x2="511.4" y2="28"/><linearGradient id="g165" href="#jet" x1="610.5" y1="220.6" x2="529.2" y2="19.5"/><linearGradient id="g166" href="#jet" x1="615" y1="216.5" x2="528.4" y2="20.2"/><linearGradient id="g167" href="#jet" x1="598.1" y1="221" x2="518.2" y2="24.8"/><linearGradient id="g168" href="#jet" x1="602.3" y1="217.1" x2="517.5" y2="25.4"/><linearGradient id="g169" href="#jet" x1="627.9" y1="137.6" x2="577.8" y2="10.6"/><linearGradient id="g170" href="#jet" x1="631.4" y1="135.3" x2="576.4" y2="11.5"/><linearGradient id="g171" href="#jet" x1="620" y1="139.1" x2="570.4" y2="14.1"/><linearGradient id="g172" href="#jet" x1="623.3" y1="137" x2="569" y2="15.1"/><linearGradient id="g173" href="#jet" x1="628.8" y1="136.1" x2="584" y2="8.4"/><linearGradient id="g174" href="#jet" x1="631.5" y1="134.6" x2="581.8" y2="9.6"/><linearGradient id="g175" href="#jet" x1="620.9" y1="137.8" x2="576.3" y2="12"/><linearGradient id="g176" href="#jet" x1="623.4" y1="136.3" x2="574.2" y2="13.2"/><linearGradient id="g177" href="#jet" x1="608.3" y1="142.4" x2="559.1" y2="19.2"/><linearGradient id="g178" href="#jet" x1="611.1" y1="139.7" x2="557.8" y2="20.4"/><linearGradient id="g179" href="#jet" x1="596.5" y1="145.1" x2="547.9" y2="24.6"/><linearGradient id="g180" href="#jet" x1="599.1" y1="142.7" x2="546.7" y2="25.8"/><linearGradient id="g181" href="#jet" x1="609.1" y1="141" x2="564.7" y2="17"/><linearGradient id="g182" href="#jet" x1="611.3" y1="139.2" x2="562.7" y2="18.7"/><linearGradient id="g183" href="#jet" x1="597.3" y1="143.9" x2="553.2" y2="22.5"/><linearGradient id="g184" href="#jet" x1="599.2" y1="142.3" x2="551.3" y2="24.1"/><linearGradient id="g185" href="#jet" x1="584.7" y1="148.1" x2="536.8" y2="30"/><linearGradient id="g186" href="#jet" x1="587.1" y1="145.8" x2="535.6" y2="31.2"/><linearGradient id="g187" href="#jet" x1="573" y1="151.3" x2="525.6" y2="35.4"/><linearGradient id="g188" href="#jet" x1="575.2" y1="149.2" x2="524.4" y2="36.5"/><linearGradient id="g189" href="#jet" x1="585.4" y1="147" x2="541.7" y2="28"/><linearGradient id="g190" href="#jet" x1="587.2" y1="145.5" x2="539.8" y2="29.6"/><linearGradient id="g191" href="#jet" x1="573.6" y1="150.3" x2="530.2" y2="33.4"/><linearGradient id="g192" href="#jet" x1="575.2" y1="148.9" x2="528.4" y2="35"/><linearGradient id="g193" href="#jet" x1="629.1" y1="123.1" x2="586.5" y2="17.9"/><linearGradient id="g194" href="#jet" x1="628.8" y1="123.4" x2="587.2" y2="17.4"/><linearGradient id="g195" href="#jet" x1="621.4" y1="126.3" x2="578.8" y2="20.8"/><linearGradient id="g196" href="#jet" x1="621.1" y1="126.6" x2="579.5" y2="20.3"/><linearGradient id="g197" href="#jet" x1="630.6" y1="122.6" x2="587" y2="17.7"/><linearGradient id="g198" href="#jet" x1="630.6" y1="122.6" x2="587.9" y2="17.1"/><linearGradient id="g199" href="#jet" x1="623.1" y1="125.8" x2="579.3" y2="20.6"/><linearGradient id="g200" href="#jet" x1="623" y1="125.8" x2="580.3" y2="19.9"/><linearGradient id="g201" href="#jet" x1="609.9" y1="131.1" x2="567.2" y2="25.2"/><linearGradient id="g202" href="#jet" x1="609.7" y1="131.3" x2="567.9" y2="24.5"/><linearGradient id="g203" href="#jet" x1="598.5" y1="135.9" x2="555.6" y2="29.4"/><linearGradient id="g204" href="#jet" x1="598.2" y1="136.1" x2="556.4" y2="28.7"/><linearGradient id="g205" href="#jet" x1="611.7" y1="130.5" x2="567.8" y2="25"/><linearGradient id="g206" href="#jet" x1="611.6" y1="130.6" x2="568.8" y2="24.1"/><linearGradient id="g207" href="#jet" x1="600.3" y1="135.3" x2="556.3" y2="29.2"/><linearGradient id="g208" href="#jet" x1="600.3" y1="135.3" x2="557.3" y2="28.3"/><linearGradient id="g209" href="#jet" x1="587" y1="140.6" x2="544" y2="33.6"/><linearGradient id="g210" href="#jet" x1="586.7" y1="140.9" x2="544.8" y2="32.9"/><linearGradient id="g211" href="#jet" x1="575.5" y1="145.4" x2="532.4" y2="37.8"/><linearGradient id="g212" href="#jet" x1="575.3" y1="145.6" x2="533.2" y2="37.1"/><linearGradient id="g213" href="#jet" x1="588.9" y1="140" x2="544.8" y2="33.4"/><linearGradient id="g214" href="#jet" x1="588.9" y1="140" x2="545.8" y2="32.5"/><linearGradient id="g215" href="#jet" x1="577.5" y1="144.7" x2="533.2" y2="37.5"/><linearGradient id="g216" href="#jet" x1="577.5" y1="144.7" x2="534.3" y2="36.6"/></defs>
<g stroke-width="1" stroke-linejoin="round"><polygon points="568.6,18 575.7,14.4 563.9,4" fill="url(#g145)" stroke="url(#g145)"/><polygon points="568.6,18 563.9,4 556.7,7.4" fill="url(#g146)" stroke="url(#g146)"/><polygon points="561.4,21.5 568.6,18 556.7,7.4" fill="url(#g147)" stroke="url(#g147)"/><polygon points="561.4,21.5 556.7,7.4 549.6,10.8" fill="url(#g148)" stroke="url(#g148)"/><polygon points="580.4,28.6 587.5,24.9 575.7,14.4" fill="url(#g149)" stroke="url(#g149)"/><polygon points="580.4,28.6 575.7,14.4 568.6,18" fill="url(#g150)" stroke="url(#g150)"/><polygon points="573.2,32.2 580.4,28.6 568.6,18" fill="url(#g151)" stroke="url(#g151)"/><polygon points="573.2,32.2 568.6,18 561.4,21.5" fill="url(#g152)" stroke="url(#g152)"/><polygon points="550.7,26.8 561.4,21.5 549.6,10.8" fill="url(#g153)" stroke="url(#g153)"/><polygon points="550.7,26.8 549.6,10.8 538.8,15.9" fill="url(#g154)" stroke="url(#g154)"/><polygon points="539.9,32.1 550.7,26.8 538.8,15.9" fill="url(#g155)" stroke="url(#g155)"/><polygon points="539.9,32.1 538.8,15.9 528.1,21" fill="url(#g156)" stroke="url(#g156)"/><polygon points="562.5,37.8 573.2,32.2 561.4,21.5" fill="url(#g157)" stroke="url(#g157)"/><polygon points="562.5,37.8 561.4,21.5 550.7,26.8" fill="url(#g158)" stroke="url(#g158)"/><polygon points="551.7,43.3 562.5,37.8 550.7,26.8" fill="url(#g159)" stroke="url(#g159)"/><polygon points="551.7,43.3 550.7,26.8 539.9,32.1" fill="url(#g160)" stroke="url(#g160)"/><polygon points="529.2,37.4 539.9,32.1 528.1,21" fill="url(#g161)" stroke="url(#g161)"/><polygon points="529.2,37.4 528.1,21 517.4,26.1" fill="url(#g162)" stroke="url(#g162)"/><polygon points="518.4,42.7 529.2,37.4 517.4,26.1" fill="url(#g163)" stroke="url(#g163)"/><polygon points="518.4,42.7 517.4,26.1 506.6,31.2" fill="url(#g164)" stroke="url(#g164)"/><polygon points="541,48.8 551.7,43.3 539.9,32.1" fill="url(#g165)" stroke="url(#g165)"/><polygon points="541,48.8 539.9,32.1 529.2,37.4" fill="url(#g166)" stroke="url(#g166)"/><polygon points="530.3,54.3 541,48.8 529.2,37.4" fill="url(#g167)" stroke="url(#g167)"/><polygon points="530.3,54.3 529.2,37.4 518.4,42.7" fill="url(#g168)" stroke="url(#g168)"/><polygon points="592.2,47 599.3,42.9 587.5,24.9" fill="url(#g169)" stroke="url(#g169)"/><polygon points="592.2,47 587.5,24.9 580.4,28.6" fill="url(#g170)" stroke="url(#g170)"/><polygon points="585,51.1 592.2,47 580.4,28.6" fill="url(#g171)" stroke="url(#g171)"/><polygon points="585,51.1 580.4,28.6 573.2,32.2" fill="url(#g172)" stroke="url(#g172)"/><polygon points="604,65.4 611.2,60.9 599.3,42.9" fill="url(#g173)" stroke="url(#g173)"/><polygon points="604,65.4 599.3,42.9 592.2,47" fill="url(#g174)" stroke="url(#g174)"/><polygon points="596.8,69.9 604,65.4 592.2,47" fill="url(#g175)" stroke="url(#g175)"/><polygon points="596.8,69.9 592.2,47 585,51.1" fill="url(#g176)" stroke="url(#g176)"/><polygon points="574.3,57.2 585,51.1 573.2,32.2" fill="url(#g177)" stroke="url(#g177)"/><polygon points="574.3,57.2 573.2,32.2 562.5,37.8" fill="url(#g178)" stroke="url(#g178)"/><polygon points="563.5,63.4 574.3,57.2 562.5,37.8" fill="url(#g179)" stroke="url(#g179)"/><polygon points="563.5,63.4 562.5,37.8 551.7,43.3" fill="url(#g180)" stroke="url(#g180)"/><polygon points="586.1,76.7 596.8,69.9 585,51.1" fill="url(#g181)" stroke="url(#g181)"/><polygon points="586.1,76.7 585,51.1 574.3,57.2" fill="url(#g182)" stroke="url(#g182)"/><polygon points="575.4,83.5 586.1,76.7 574.3,57.2" fill="url(#g183)" stroke="url(#g183)"/><polygon points="575.4,83.5 574.3,57.2 563.5,63.4" fill="url(#g184)" stroke="url(#g184)"/><polygon points="552.8,69.5 563.5,63.4 551.7,43.3" fill="url(#g185)" stroke="url(#g185)"/><polygon points="552.8,69.5 551.7,43.3 541,48.8" fill="url(#g186)" stroke="url(#g186)"/><polygon points="542.1,75.7 552.8,69.5 541,48.8" fill="url(#g187)" stroke="url(#g187)"/><polygon points="542.1,75.7 541,48.8 530.3,54.3" fill="url(#g188)" stroke="url(#g188)"/><polygon points="564.6,90.3 575.4,83.5 563.5,63.4" fill="url(#g189)" stroke="url(#g189)"/><polygon points="564.6,90.3 563.5,63.4 552.8,69.5" fill="url(#g190)" stroke="url(#g190)"/><polygon points="553.9,97.1 564.6,90.3 552.8,69.5" fill="url(#g191)" stroke="url(#g191)"/><polygon points="553.9,97.1 552.8,69.5 542.1,75.7" fill="url(#g192)" stroke="url(#g192)"/><polygon points="615.8,90.4 623,86 611.2,60.9" fill="url(#g193)" stroke="url(#g193)"/><polygon points="615.8,90.4 611.2,60.9 604,65.4" fill="url(#g194)" stroke="url(#g194)"/><polygon points="608.7,94.8 615.8,90.4 604,65.4" fill="url(#g195)" stroke="url(#g195)"/><polygon points="608.7,94.8 604,65.4 596.8,69.9" fill="url(#g196)" stroke="url(#g196)"/><polygon points="627.6,115.4 634.8,111.2 623,86" fill="url(#g197)" stroke="url(#g197)"/><polygon points="627.6,115.4 623,86 615.8,90.4" fill="url(#g198)" stroke="url(#g198)"/><polygon points="620.5,119.6 627.6,115.4 615.8,90.4" fill="url(#g199)" stroke="url(#g199)"/><polygon points="620.5,119.6 615.8,90.4 608.7,94.8" fill="url(#g200)" stroke="url(#g200)"/><polygon points="597.9,101.3 608.7,94.8 596.8,69.9" fill="url(#g201)" stroke="url(#g201)"/><polygon points="597.9,101.3 596.8,69.9 586.1,76.7" fill="url(#g202)" stroke="url(#g202)"/><polygon points="587.2,107.8 597.9,101.3 586.1,76.7" fill="url(#g203)" stroke="url(#g203)"/><polygon points="587.2,107.8 586.1,76.7 575.4,83.5" fill="url(#g204)" stroke="url(#g204)"/><polygon points="609.7,125.9 620.5,119.6 608.7,94.8" fill="url(#g205)" stroke="url(#g205)"/><polygon points="609.7,125.9 608.7,94.8 597.9,101.3" fill="url(#g206)" stroke="url(#g206)"/><polygon points="599,132.1 609.7,125.9 597.9,101.3" fill="url(#g207)" stroke="url(#g207)"/><polygon points="599,132.1 597.9,101.3 587.2,107.8" fill="url(#g208)" stroke="url(#g208)"/><polygon points="576.4,114.4 587.2,107.8 575.4,83.5" fill="url(#g209)" stroke="url(#g209)"/><polygon points="576.4,114.4 575.4,83.5 564.6,90.3" fill="url(#g210)" stroke="url(#g210)"/><polygon points="565.7,120.9 576.4,114.4 564.6,90.3" fill="url(#g211)" stroke="url(#g211)"/><polygon points="565.7,120.9 564.6,90.3 553.9,97.1" fill="url(#g212)" stroke="url(#g212)"/><polygon points="588.3,138.4 599,132.1 587.2,107.8" fill="url(#g213)" stroke="url(#g213)"/><polygon points="588.3,138.4 587.2,107.8 576.4,114.4" fill="url(#g214)" stroke="url(#g214)"/><polygon points="577.5,144.7 588.3,138.4 576.4,114.4" fill="url(#g215)" stroke="url(#g215)"/><polygon points="577.5,144.7 576.4,114.4 565.7,120.9" fill="url(#g216)" stroke="url(#g216)"/></g>
<text x="487.6" y="119.9" font-size="9.6" text-anchor="end">2.0</text>
<text x="487.6" y="92.1" font-size="9.6" text-anchor="end">2.5</text>
<text x="487.6" y="64.2" font-size="9.6" text-anchor="end">3.0</text>
<text x="487.6" y="36.4" font-size="9.6" text-anchor="end">3.5</text>
<text x="583.1" y="158.7" font-size="9.6" text-anchor="middle">20</text>
<text x="605.9" y="148.4" font-size="9.6" text-anchor="middle">50</text>
<text x="629.3" y="137.4" font-size="9.6" text-anchor="middle">80</text>
<text x="645.5" y="129.3" font-size="9.6" text-anchor="middle">100</text>
<text x="554.4" y="163.1" font-size="9.6" text-anchor="middle">0</text>
<text x="530.1" y="151" font-size="9.6" text-anchor="middle">10</text>
<text x="508.3" y="141.1" font-size="9.6" text-anchor="middle">20</text>
<text x="484.9" y="131.8" font-size="9.6" text-anchor="middle">30</text>
<text x="470.7" y="65" font-size="9.8" text-anchor="middle" transform="rotate(-90 470.7 65)">Total PGA amplification factor</text>
<text x="620.1" y="155.1" font-size="9.8" text-anchor="middle" transform="rotate(-27.2 620.1 155.1)">Canyon width (m)</text>
<text x="497.9" y="148.2" font-size="9.4" text-anchor="middle" transform="rotate(27.2 497.9 148.2)">Incident angles (°)</text>
<text x="613" y="11.3" font-size="9.6" text-anchor="start">L5</text>
<rect x="662.1" y="2.8" width="8.5" height="152.2" fill="url(#jv)" stroke="#444" stroke-width="0.4"/>
<text x="673.2" y="11.2" font-size="9.6" text-anchor="start">3.4</text>
<text x="673.2" y="33.1" font-size="9.6" text-anchor="start">3.2</text>
<text x="673.2" y="55" font-size="9.6" text-anchor="start">3.0</text>
<text x="673.2" y="76.9" font-size="9.6" text-anchor="start">2.8</text>
<text x="673.2" y="98.8" font-size="9.6" text-anchor="start">2.6</text>
<text x="673.2" y="120.7" font-size="9.6" text-anchor="start">2.4</text>
<text x="673.2" y="142.6" font-size="9.6" text-anchor="start">2.2</text>
<path d="M670.6 9.4l-1.3 0M670.6 31.3l-1.3 0M670.6 53.2l-1.3 0M670.6 75.1l-1.3 0M670.6 97l-1.3 0M670.6 118.9l-1.3 0M670.6 140.8l-1.3 0" stroke="#333" stroke-width="0.5"/>
</g>
<g id="R1">
<path d="M100.6 363.5L28.2 329.1M28.2 329.1L28.2 244.9M128 350.8L55.6 316.4M55.6 316.4L55.6 232.2M155.3 338.1L83 303.8M83 303.8L83 219.6M173.6 329.7L101.2 295.3M101.2 295.3L101.2 211.1M100.6 363.5L173.6 329.7M173.6 329.7L173.6 245.5M76.5 352L149.5 318.2M149.5 318.2L149.5 234M52.3 340.6L125.3 306.8M125.3 306.8L125.3 222.6M28.2 329.1L101.2 295.3M101.2 295.3L101.2 211.1M28.2 329.1L101.2 295.3M101.2 295.3L173.6 329.7M28.2 312.3L101.2 278.5M101.2 278.5L173.6 312.9M28.2 295.4L101.2 261.6M101.2 261.6L173.6 296M28.2 278.6L101.2 244.8M101.2 244.8L173.6 279.2M28.2 261.7L101.2 227.9M101.2 227.9L173.6 262.3M28.2 244.9L101.2 211.1M101.2 211.1L173.6 245.5" stroke="#e9e9e9" stroke-width="0.7" fill="none"/>
<path d="M28.2 329.1L28.2 244.9M100.6 363.5L173.6 329.7M100.6 363.5L28.2 329.1M28.2 329.1l-1.8 0M28.2 312.3l-1.8 0M28.2 295.4l-1.8 0M28.2 278.6l-1.8 0M28.2 261.7l-1.8 0M28.2 244.9l-1.8 0M100.6 363.5l0.8 1.6M128 350.8l0.8 1.6M155.3 338.1l0.8 1.6M173.6 329.7l0.8 1.6M100.6 363.5l-0.8 1.6M76.5 352l-0.8 1.6M52.3 340.6l-0.8 1.6M28.2 329.1l-0.8 1.6" stroke="#969696" stroke-width="0.7" fill="none"/>
<defs><linearGradient id="g217" href="#jet" x1="150.8" y1="304" x2="46.4" y2="199.3"/><linearGradient id="g218" href="#jet" x1="151.4" y1="293.3" x2="45.8" y2="212.1"/><linearGradient id="g219" href="#jet" x1="141.5" y1="306.2" x2="49" y2="204.4"/><linearGradient id="g220" href="#jet" x1="142.8" y1="297" x2="47.6" y2="214.4"/><linearGradient id="g221" href="#jet" x1="133" y1="308.3" x2="49.6" y2="209.5"/><linearGradient id="g222" href="#jet" x1="134.8" y1="300.2" x2="47.8" y2="217.4"/><linearGradient id="g223" href="#jet" x1="141.5" y1="310.7" x2="57.4" y2="188.8"/><linearGradient id="g224" href="#jet" x1="144.5" y1="303.5" x2="52" y2="201.7"/><linearGradient id="g225" href="#jet" x1="133.3" y1="311.6" x2="57.6" y2="196.6"/><linearGradient id="g226" href="#jet" x1="136.2" y1="305.5" x2="52.8" y2="206.8"/><linearGradient id="g227" href="#jet" x1="125.8" y1="312.8" x2="56.3" y2="203.4"/><linearGradient id="g228" href="#jet" x1="128.5" y1="307.6" x2="52" y2="211.7"/><linearGradient id="g229" href="#jet" x1="136" y1="311.7" x2="72.6" y2="181.7"/><linearGradient id="g230" href="#jet" x1="139.2" y1="307.7" x2="63.5" y2="192.7"/><linearGradient id="g231" href="#jet" x1="128.8" y1="312.4" x2="69.8" y2="190.6"/><linearGradient id="g232" href="#jet" x1="131.6" y1="309.1" x2="62.1" y2="199.7"/><linearGradient id="g233" href="#jet" x1="121.9" y1="313.6" x2="66.3" y2="198.3"/><linearGradient id="g234" href="#jet" x1="124.3" y1="310.8" x2="59.7" y2="206"/><linearGradient id="g235" href="#jet" x1="130" y1="305.2" x2="43.2" y2="222.2"/><linearGradient id="g236" href="#jet" x1="130.1" y1="305.9" x2="43.2" y2="221.7"/><linearGradient id="g237" href="#jet" x1="125.9" y1="310.1" x2="38.2" y2="227.1"/><linearGradient id="g238" href="#jet" x1="126" y1="310.8" x2="38.2" y2="226.6"/><linearGradient id="g239" href="#jet" x1="121.9" y1="315" x2="33.3" y2="231.9"/><linearGradient id="g240" href="#jet" x1="122" y1="315.8" x2="33.2" y2="231.5"/><linearGradient id="g241" href="#jet" x1="128.2" y1="307" x2="40.7" y2="225.2"/><linearGradient id="g242" href="#jet" x1="128.3" y1="307.5" x2="40.6" y2="224.5"/><linearGradient id="g243" href="#jet" x1="124.1" y1="311.9" x2="35.8" y2="230"/><linearGradient id="g244" href="#jet" x1="124.2" y1="312.4" x2="35.7" y2="229.4"/><linearGradient id="g245" href="#jet" x1="120.2" y1="316.7" x2="30.9" y2="234.9"/><linearGradient id="g246" href="#jet" x1="120.3" y1="317.3" x2="30.8" y2="234.3"/><linearGradient id="g247" href="#jet" x1="126.3" y1="309.1" x2="38.1" y2="228.5"/><linearGradient id="g248" href="#jet" x1="126.3" y1="309.5" x2="37.9" y2="227.7"/><linearGradient id="g249" href="#jet" x1="122.2" y1="313.9" x2="33.2" y2="233.3"/><linearGradient id="g250" href="#jet" x1="122.3" y1="314.3" x2="33" y2="232.5"/><linearGradient id="g251" href="#jet" x1="118.3" y1="318.6" x2="28.3" y2="238.1"/><linearGradient id="g252" href="#jet" x1="118.4" y1="319.2" x2="28.2" y2="237.4"/><linearGradient id="g253" href="#jet" x1="125.4" y1="303.4" x2="28.2" y2="243.3"/><linearGradient id="g254" href="#jet" x1="123.9" y1="301" x2="28.7" y2="244.2"/><linearGradient id="g255" href="#jet" x1="121.1" y1="308.1" x2="26.6" y2="246.5"/><linearGradient id="g256" href="#jet" x1="119.6" y1="305.6" x2="26.9" y2="247.1"/><linearGradient id="g257" href="#jet" x1="116.5" y1="312.9" x2="24.5" y2="249.9"/><linearGradient id="g258" href="#jet" x1="115.1" y1="310.2" x2="24.7" y2="250.3"/><linearGradient id="g259" href="#jet" x1="121.4" y1="311.5" x2="25" y2="246.4"/><linearGradient id="g260" href="#jet" x1="120.3" y1="309.4" x2="25.7" y2="247.7"/><linearGradient id="g261" href="#jet" x1="116.9" y1="316.2" x2="23.3" y2="249.8"/><linearGradient id="g262" href="#jet" x1="115.8" y1="313.9" x2="23.8" y2="250.9"/><linearGradient id="g263" href="#jet" x1="112.1" y1="320.9" x2="21.2" y2="253.5"/><linearGradient id="g264" href="#jet" x1="111" y1="318.5" x2="21.5" y2="254.4"/><linearGradient id="g265" href="#jet" x1="117.4" y1="318.3" x2="22.3" y2="248.4"/><linearGradient id="g266" href="#jet" x1="116.6" y1="316.5" x2="23.1" y2="250.2"/><linearGradient id="g267" href="#jet" x1="112.7" y1="323" x2="20.5" y2="252.1"/><linearGradient id="g268" href="#jet" x1="111.9" y1="321.1" x2="21.1" y2="253.7"/><linearGradient id="g269" href="#jet" x1="107.7" y1="327.7" x2="18.2" y2="256.1"/><linearGradient id="g270" href="#jet" x1="107" y1="325.7" x2="18.7" y2="257.4"/><linearGradient id="g271" href="#jet" x1="138.6" y1="311.5" x2="76.2" y2="176.6"/><linearGradient id="g272" href="#jet" x1="139" y1="311.1" x2="74.2" y2="178.4"/><linearGradient id="g273" href="#jet" x1="132.4" y1="314" x2="70.7" y2="180.7"/><linearGradient id="g274" href="#jet" x1="132.8" y1="313.6" x2="68.8" y2="182.5"/><linearGradient id="g275" href="#jet" x1="126.2" y1="316.5" x2="65.2" y2="184.8"/><linearGradient id="g276" href="#jet" x1="126.6" y1="316.2" x2="63.3" y2="186.5"/><linearGradient id="g277" href="#jet" x1="141.2" y1="310" x2="82" y2="174.7"/><linearGradient id="g278" href="#jet" x1="141.4" y1="309.8" x2="79.8" y2="176.5"/><linearGradient id="g279" href="#jet" x1="134.9" y1="312.6" x2="76.4" y2="178.8"/><linearGradient id="g280" href="#jet" x1="135.2" y1="312.4" x2="74.2" y2="180.6"/><linearGradient id="g281" href="#jet" x1="128.7" y1="315.1" x2="70.7" y2="182.9"/><linearGradient id="g282" href="#jet" x1="128.9" y1="314.9" x2="68.6" y2="184.6"/><linearGradient id="g283" href="#jet" x1="144.3" y1="308.5" x2="88.2" y2="172.8"/><linearGradient id="g284" href="#jet" x1="144.3" y1="308.5" x2="85.8" y2="174.7"/><linearGradient id="g285" href="#jet" x1="138" y1="311.1" x2="82.5" y2="177"/><linearGradient id="g286" href="#jet" x1="138.1" y1="311" x2="80.1" y2="178.8"/><linearGradient id="g287" href="#jet" x1="131.7" y1="313.6" x2="76.7" y2="181.1"/><linearGradient id="g288" href="#jet" x1="131.8" y1="313.6" x2="74.4" y2="182.8"/><linearGradient id="g289" href="#jet" x1="131.4" y1="314.4" x2="18.6" y2="223"/><linearGradient id="g290" href="#jet" x1="130.2" y1="311.3" x2="22.7" y2="233.7"/><linearGradient id="g291" href="#jet" x1="124" y1="319.6" x2="23.2" y2="227.9"/><linearGradient id="g292" href="#jet" x1="123.2" y1="316.4" x2="25.4" y2="236.7"/><linearGradient id="g293" href="#jet" x1="116.4" y1="324.6" x2="25" y2="233.5"/><linearGradient id="g294" href="#jet" x1="115.9" y1="321.3" x2="26" y2="240.7"/><linearGradient id="g295" href="#jet" x1="127.3" y1="318.1" x2="24.7" y2="211.8"/><linearGradient id="g296" href="#jet" x1="127.1" y1="316.2" x2="26.3" y2="224.5"/><linearGradient id="g297" href="#jet" x1="119.9" y1="323" x2="28.1" y2="219.8"/><linearGradient id="g298" href="#jet" x1="119.8" y1="321" x2="28.4" y2="230"/><linearGradient id="g299" href="#jet" x1="112.3" y1="327.8" x2="28.8" y2="227.6"/><linearGradient id="g300" href="#jet" x1="112.3" y1="325.7" x2="28.4" y2="235.9"/><linearGradient id="g301" href="#jet" x1="125.1" y1="318.8" x2="34.8" y2="201.4"/><linearGradient id="g302" href="#jet" x1="125.2" y1="318.4" x2="33.4" y2="215.1"/><linearGradient id="g303" href="#jet" x1="117.7" y1="323.9" x2="36.1" y2="211.9"/><linearGradient id="g304" href="#jet" x1="117.8" y1="323.2" x2="34.3" y2="223"/><linearGradient id="g305" href="#jet" x1="109.9" y1="328.7" x2="35.1" y2="221.4"/><linearGradient id="g306" href="#jet" x1="110.1" y1="327.9" x2="33.2" y2="230.5"/><linearGradient id="g307" href="#jet" x1="113.2" y1="323.9" x2="20.5" y2="249.4"/><linearGradient id="g308" href="#jet" x1="112.7" y1="322.6" x2="21.2" y2="251.5"/><linearGradient id="g309" href="#jet" x1="108.4" y1="328.6" x2="18.4" y2="253.5"/><linearGradient id="g310" href="#jet" x1="108" y1="327.1" x2="19" y2="255.4"/><linearGradient id="g311" href="#jet" x1="103.4" y1="333.3" x2="15.9" y2="257.8"/><linearGradient id="g312" href="#jet" x1="103" y1="331.7" x2="16.3" y2="259.4"/><linearGradient id="g313" href="#jet" x1="109.7" y1="328.2" x2="18.8" y2="249.6"/><linearGradient id="g314" href="#jet" x1="109.4" y1="327.3" x2="19.5" y2="252.3"/><linearGradient id="g315" href="#jet" x1="104.8" y1="333" x2="16.6" y2="254.1"/><linearGradient id="g316" href="#jet" x1="104.6" y1="331.9" x2="17.1" y2="256.5"/><linearGradient id="g317" href="#jet" x1="99.7" y1="337.7" x2="14" y2="258.7"/><linearGradient id="g318" href="#jet" x1="99.5" y1="336.6" x2="14.3" y2="260.8"/><linearGradient id="g319" href="#jet" x1="106.6" y1="331.6" x2="17.7" y2="249.1"/><linearGradient id="g320" href="#jet" x1="106.5" y1="331.1" x2="18.3" y2="252.2"/><linearGradient id="g321" href="#jet" x1="101.6" y1="336.4" x2="15.3" y2="254"/><linearGradient id="g322" href="#jet" x1="101.5" y1="335.8" x2="15.8" y2="256.8"/><linearGradient id="g323" href="#jet" x1="96.4" y1="341.3" x2="12.6" y2="258.9"/><linearGradient id="g324" href="#jet" x1="96.3" y1="340.5" x2="12.9" y2="261.4"/><linearGradient id="g325" href="#jet" x1="149.3" y1="302.1" x2="175.9" y2="344.9"/><linearGradient id="g326" href="#jet" x1="149.5" y1="302" x2="173" y2="346"/><linearGradient id="g327" href="#jet" x1="143.1" y1="305.3" x2="174.3" y2="354.6"/><linearGradient id="g328" href="#jet" x1="143.3" y1="305.2" x2="170.8" y2="356.2"/><linearGradient id="g329" href="#jet" x1="136.9" y1="308.6" x2="173.6" y2="365.2"/><linearGradient id="g330" href="#jet" x1="137.2" y1="308.4" x2="169.3" y2="367.4"/><linearGradient id="g331" href="#jet" x1="154.5" y1="298.1" x2="189.1" y2="345.2"/><linearGradient id="g332" href="#jet" x1="155" y1="297.8" x2="186.2" y2="347"/><linearGradient id="g333" href="#jet" x1="148" y1="301.4" x2="188.7" y2="355.1"/><linearGradient id="g334" href="#jet" x1="148.5" y1="301" x2="185.2" y2="357.6"/><linearGradient id="g335" href="#jet" x1="141.5" y1="304.7" x2="189.4" y2="365.8"/><linearGradient id="g336" href="#jet" x1="142.1" y1="304.3" x2="185.3" y2="369.3"/><linearGradient id="g337" href="#jet" x1="158.3" y1="293.7" x2="202.3" y2="344.1"/><linearGradient id="g338" href="#jet" x1="159" y1="293" x2="199.7" y2="346.7"/><linearGradient id="g339" href="#jet" x1="151.5" y1="297.2" x2="203.1" y2="353.9"/><linearGradient id="g340" href="#jet" x1="152.2" y1="296.4" x2="200.1" y2="357.4"/><linearGradient id="g341" href="#jet" x1="144.6" y1="300.8" x2="205.4" y2="364.4"/><linearGradient id="g342" href="#jet" x1="145.3" y1="299.8" x2="201.9" y2="369.1"/><linearGradient id="g343" href="#jet" x1="129.3" y1="312.5" x2="139.3" y2="348.2"/><linearGradient id="g344" href="#jet" x1="129.6" y1="312.3" x2="136.3" y2="351.2"/><linearGradient id="g345" href="#jet" x1="119.8" y1="313.7" x2="132.7" y2="364.4"/><linearGradient id="g346" href="#jet" x1="120.3" y1="313.3" x2="127.6" y2="368.4"/><linearGradient id="g347" href="#jet" x1="110.1" y1="313.8" x2="125.8" y2="384.9"/><linearGradient id="g348" href="#jet" x1="111.2" y1="313.1" x2="117" y2="390.2"/><linearGradient id="g349" href="#jet" x1="136" y1="310.1" x2="153" y2="355.6"/><linearGradient id="g350" href="#jet" x1="136.5" y1="309.4" x2="149.4" y2="360.1"/><linearGradient id="g351" href="#jet" x1="126" y1="311.1" x2="148.8" y2="374.7"/><linearGradient id="g352" href="#jet" x1="126.9" y1="310.1" x2="142.6" y2="381.2"/><linearGradient id="g353" href="#jet" x1="115.7" y1="310.8" x2="145.9" y2="400"/><linearGradient id="g354" href="#jet" x1="117.5" y1="309.2" x2="134.7" y2="409.7"/><linearGradient id="g355" href="#jet" x1="141.4" y1="306.7" x2="168.8" y2="362.3"/><linearGradient id="g356" href="#jet" x1="142.2" y1="305.3" x2="165.1" y2="368.9"/><linearGradient id="g357" href="#jet" x1="130.5" y1="307.5" x2="168.7" y2="384.1"/><linearGradient id="g358" href="#jet" x1="131.9" y1="305.3" x2="162.1" y2="394.5"/><linearGradient id="g359" href="#jet" x1="118.7" y1="306.8" x2="173" y2="413.8"/><linearGradient id="g360" href="#jet" x1="121.2" y1="303.2" x2="160.8" y2="431.4"/><linearGradient id="g361" href="#jet" x1="103" y1="315.9" x2="101.6" y2="365.6"/><linearGradient id="g362" href="#jet" x1="104.6" y1="315.8" x2="92.5" y2="366"/><linearGradient id="g363" href="#jet" x1="96.4" y1="309.4" x2="81.6" y2="392.8"/><linearGradient id="g364" href="#jet" x1="100.1" y1="310.8" x2="65.2" y2="386.5"/><linearGradient id="g365" href="#jet" x1="97.5" y1="298" x2="39.4" y2="425.5"/><linearGradient id="g366" href="#jet" x1="102.9" y1="305.7" x2="20.5" y2="398.9"/><linearGradient id="g367" href="#jet" x1="109.7" y1="312.9" x2="116.6" y2="392.9"/><linearGradient id="g368" href="#jet" x1="113.2" y1="312.4" x2="98.4" y2="395.8"/><linearGradient id="g369" href="#jet" x1="103.5" y1="302.1" x2="93.7" y2="444.3"/><linearGradient id="g370" href="#jet" x1="112.5" y1="304.9" x2="54.5" y2="432.3"/><linearGradient id="g371" href="#jet" x1="115.3" y1="280" x2="6.8" y2="524.8"/><linearGradient id="g372" href="#jet" x1="126.3" y1="302.2" x2="-34.8" y2="441.1"/><linearGradient id="g373" href="#jet" x1="112.6" y1="306.7" x2="147.3" y2="429.9"/><linearGradient id="g374" href="#jet" x1="120.6" y1="303.3" x2="110.8" y2="445.5"/><linearGradient id="g375" href="#jet" x1="101.8" y1="284" x2="144" y2="542.1"/><linearGradient id="g376" href="#jet" x1="130.1" y1="286.5" x2="21.6" y2="531.4"/><linearGradient id="g377" href="#jet" x1="159.4" y1="185.7" x2="-141" y2="954.1"/><linearGradient id="g378" href="#jet" x1="176.5" y1="306.8" x2="-211.2" y2="456.4"/></defs>
<g stroke-width="1" stroke-linejoin="round"><polygon points="103.2,256.2 109.2,255 101.2,245.2" fill="url(#g217)" stroke="url(#g217)"/><polygon points="103.2,256.2 101.2,245.2 95.1,245.6" fill="url(#g218)" stroke="url(#g218)"/><polygon points="97.1,257.4 103.2,256.2 95.1,245.6" fill="url(#g219)" stroke="url(#g219)"/><polygon points="97.1,257.4 95.1,245.6 89,246" fill="url(#g220)" stroke="url(#g220)"/><polygon points="91,258.5 97.1,257.4 89,246" fill="url(#g221)" stroke="url(#g221)"/><polygon points="91,258.5 89,246 83,246.4" fill="url(#g222)" stroke="url(#g222)"/><polygon points="111.2,266.8 117.3,264.9 109.2,255" fill="url(#g223)" stroke="url(#g223)"/><polygon points="111.2,266.8 109.2,255 103.2,256.2" fill="url(#g224)" stroke="url(#g224)"/><polygon points="105.1,268.7 111.2,266.8 103.2,256.2" fill="url(#g225)" stroke="url(#g225)"/><polygon points="105.1,268.7 103.2,256.2 97.1,257.4" fill="url(#g226)" stroke="url(#g226)"/><polygon points="99,270.7 105.1,268.7 97.1,257.4" fill="url(#g227)" stroke="url(#g227)"/><polygon points="99,270.7 97.1,257.4 91,258.5" fill="url(#g228)" stroke="url(#g228)"/><polygon points="119.2,277.4 125.3,274.7 117.3,264.9" fill="url(#g229)" stroke="url(#g229)"/><polygon points="119.2,277.4 117.3,264.9 111.2,266.8" fill="url(#g230)" stroke="url(#g230)"/><polygon points="113.2,280.1 119.2,277.4 111.2,266.8" fill="url(#g231)" stroke="url(#g231)"/><polygon points="113.2,280.1 111.2,266.8 105.1,268.7" fill="url(#g232)" stroke="url(#g232)"/><polygon points="107.1,282.8 113.2,280.1 105.1,268.7" fill="url(#g233)" stroke="url(#g233)"/><polygon points="107.1,282.8 105.1,268.7 99,270.7" fill="url(#g234)" stroke="url(#g234)"/><polygon points="81.9,259.1 91,258.5 83,246.4" fill="url(#g235)" stroke="url(#g235)"/><polygon points="81.9,259.1 83,246.4 73.8,247.1" fill="url(#g236)" stroke="url(#g236)"/><polygon points="72.7,259.8 81.9,259.1 73.8,247.1" fill="url(#g237)" stroke="url(#g237)"/><polygon points="72.7,259.8 73.8,247.1 64.7,247.8" fill="url(#g238)" stroke="url(#g238)"/><polygon points="63.6,260.4 72.7,259.8 64.7,247.8" fill="url(#g239)" stroke="url(#g239)"/><polygon points="63.6,260.4 64.7,247.8 55.6,248.5" fill="url(#g240)" stroke="url(#g240)"/><polygon points="89.9,271.2 99,270.7 91,258.5" fill="url(#g241)" stroke="url(#g241)"/><polygon points="89.9,271.2 91,258.5 81.9,259.1" fill="url(#g242)" stroke="url(#g242)"/><polygon points="80.8,271.7 89.9,271.2 81.9,259.1" fill="url(#g243)" stroke="url(#g243)"/><polygon points="80.8,271.7 81.9,259.1 72.7,259.8" fill="url(#g244)" stroke="url(#g244)"/><polygon points="71.7,272.2 80.8,271.7 72.7,259.8" fill="url(#g245)" stroke="url(#g245)"/><polygon points="71.7,272.2 72.7,259.8 63.6,260.4" fill="url(#g246)" stroke="url(#g246)"/><polygon points="98,283.2 107.1,282.8 99,270.7" fill="url(#g247)" stroke="url(#g247)"/><polygon points="98,283.2 99,270.7 89.9,271.2" fill="url(#g248)" stroke="url(#g248)"/><polygon points="88.8,283.7 98,283.2 89.9,271.2" fill="url(#g249)" stroke="url(#g249)"/><polygon points="88.8,283.7 89.9,271.2 80.8,271.7" fill="url(#g250)" stroke="url(#g250)"/><polygon points="79.7,284.1 88.8,283.7 80.8,271.7" fill="url(#g251)" stroke="url(#g251)"/><polygon points="79.7,284.1 80.8,271.7 71.7,272.2" fill="url(#g252)" stroke="url(#g252)"/><polygon points="54.5,259.6 63.6,260.4 55.6,248.5" fill="url(#g253)" stroke="url(#g253)"/><polygon points="54.5,259.6 55.6,248.5 46.5,247.4" fill="url(#g254)" stroke="url(#g254)"/><polygon points="45.4,258.7 54.5,259.6 46.5,247.4" fill="url(#g255)" stroke="url(#g255)"/><polygon points="45.4,258.7 46.5,247.4 37.3,246.3" fill="url(#g256)" stroke="url(#g256)"/><polygon points="36.2,257.9 45.4,258.7 37.3,246.3" fill="url(#g257)" stroke="url(#g257)"/><polygon points="36.2,257.9 37.3,246.3 28.2,245.2" fill="url(#g258)" stroke="url(#g258)"/><polygon points="62.5,271.7 71.7,272.2 63.6,260.4" fill="url(#g259)" stroke="url(#g259)"/><polygon points="62.5,271.7 63.6,260.4 54.5,259.6" fill="url(#g260)" stroke="url(#g260)"/><polygon points="53.4,271.2 62.5,271.7 54.5,259.6" fill="url(#g261)" stroke="url(#g261)"/><polygon points="53.4,271.2 54.5,259.6 45.4,258.7" fill="url(#g262)" stroke="url(#g262)"/><polygon points="44.3,270.7 53.4,271.2 45.4,258.7" fill="url(#g263)" stroke="url(#g263)"/><polygon points="44.3,270.7 45.4,258.7 36.2,257.9" fill="url(#g264)" stroke="url(#g264)"/><polygon points="70.6,283.9 79.7,284.1 71.7,272.2" fill="url(#g265)" stroke="url(#g265)"/><polygon points="70.6,283.9 71.7,272.2 62.5,271.7" fill="url(#g266)" stroke="url(#g266)"/><polygon points="61.5,283.6 70.6,283.9 62.5,271.7" fill="url(#g267)" stroke="url(#g267)"/><polygon points="61.5,283.6 62.5,271.7 53.4,271.2" fill="url(#g268)" stroke="url(#g268)"/><polygon points="52.3,283.4 61.5,283.6 53.4,271.2" fill="url(#g269)" stroke="url(#g269)"/><polygon points="52.3,283.4 53.4,271.2 44.3,270.7" fill="url(#g270)" stroke="url(#g270)"/><polygon points="127.3,287 133.4,284.2 125.3,274.7" fill="url(#g271)" stroke="url(#g271)"/><polygon points="127.3,287 125.3,274.7 119.2,277.4" fill="url(#g272)" stroke="url(#g272)"/><polygon points="121.2,289.8 127.3,287 119.2,277.4" fill="url(#g273)" stroke="url(#g273)"/><polygon points="121.2,289.8 119.2,277.4 113.2,280.1" fill="url(#g274)" stroke="url(#g274)"/><polygon points="115.1,292.7 121.2,289.8 113.2,280.1" fill="url(#g275)" stroke="url(#g275)"/><polygon points="115.1,292.7 113.2,280.1 107.1,282.8" fill="url(#g276)" stroke="url(#g276)"/><polygon points="135.3,296.6 141.4,293.7 133.4,284.2" fill="url(#g277)" stroke="url(#g277)"/><polygon points="135.3,296.6 133.4,284.2 127.3,287" fill="url(#g278)" stroke="url(#g278)"/><polygon points="129.3,299.6 135.3,296.6 127.3,287" fill="url(#g279)" stroke="url(#g279)"/><polygon points="129.3,299.6 127.3,287 121.2,289.8" fill="url(#g280)" stroke="url(#g280)"/><polygon points="123.2,302.5 129.3,299.6 121.2,289.8" fill="url(#g281)" stroke="url(#g281)"/><polygon points="123.2,302.5 121.2,289.8 115.1,292.7" fill="url(#g282)" stroke="url(#g282)"/><polygon points="143.4,306.3 149.5,303.2 141.4,293.7" fill="url(#g283)" stroke="url(#g283)"/><polygon points="143.4,306.3 141.4,293.7 135.3,296.6" fill="url(#g284)" stroke="url(#g284)"/><polygon points="137.3,309.3 143.4,306.3 135.3,296.6" fill="url(#g285)" stroke="url(#g285)"/><polygon points="137.3,309.3 135.3,296.6 129.3,299.6" fill="url(#g286)" stroke="url(#g286)"/><polygon points="131.2,312.4 137.3,309.3 129.3,299.6" fill="url(#g287)" stroke="url(#g287)"/><polygon points="131.2,312.4 129.3,299.6 123.2,302.5" fill="url(#g288)" stroke="url(#g288)"/><polygon points="106,293.8 115.1,292.7 107.1,282.8" fill="url(#g289)" stroke="url(#g289)"/><polygon points="106,293.8 107.1,282.8 98,283.2" fill="url(#g290)" stroke="url(#g290)"/><polygon points="96.9,294.9 106,293.8 98,283.2" fill="url(#g291)" stroke="url(#g291)"/><polygon points="96.9,294.9 98,283.2 88.8,283.7" fill="url(#g292)" stroke="url(#g292)"/><polygon points="87.8,296.1 96.9,294.9 88.8,283.7" fill="url(#g293)" stroke="url(#g293)"/><polygon points="87.8,296.1 88.8,283.7 79.7,284.1" fill="url(#g294)" stroke="url(#g294)"/><polygon points="114,304.4 123.2,302.5 115.1,292.7" fill="url(#g295)" stroke="url(#g295)"/><polygon points="114,304.4 115.1,292.7 106,293.8" fill="url(#g296)" stroke="url(#g296)"/><polygon points="104.9,306.2 114,304.4 106,293.8" fill="url(#g297)" stroke="url(#g297)"/><polygon points="104.9,306.2 106,293.8 96.9,294.9" fill="url(#g298)" stroke="url(#g298)"/><polygon points="95.8,308 104.9,306.2 96.9,294.9" fill="url(#g299)" stroke="url(#g299)"/><polygon points="95.8,308 96.9,294.9 87.8,296.1" fill="url(#g300)" stroke="url(#g300)"/><polygon points="122.1,314.9 131.2,312.4 123.2,302.5" fill="url(#g301)" stroke="url(#g301)"/><polygon points="122.1,314.9 123.2,302.5 114,304.4" fill="url(#g302)" stroke="url(#g302)"/><polygon points="113,317.5 122.1,314.9 114,304.4" fill="url(#g303)" stroke="url(#g303)"/><polygon points="113,317.5 114,304.4 104.9,306.2" fill="url(#g304)" stroke="url(#g304)"/><polygon points="103.8,320 113,317.5 104.9,306.2" fill="url(#g305)" stroke="url(#g305)"/><polygon points="103.8,320 104.9,306.2 95.8,308" fill="url(#g306)" stroke="url(#g306)"/><polygon points="78.6,296.1 87.8,296.1 79.7,284.1" fill="url(#g307)" stroke="url(#g307)"/><polygon points="78.6,296.1 79.7,284.1 70.6,283.9" fill="url(#g308)" stroke="url(#g308)"/><polygon points="69.5,296.1 78.6,296.1 70.6,283.9" fill="url(#g309)" stroke="url(#g309)"/><polygon points="69.5,296.1 70.6,283.9 61.5,283.6" fill="url(#g310)" stroke="url(#g310)"/><polygon points="60.4,296.2 69.5,296.1 61.5,283.6" fill="url(#g311)" stroke="url(#g311)"/><polygon points="60.4,296.2 61.5,283.6 52.3,283.4" fill="url(#g312)" stroke="url(#g312)"/><polygon points="86.7,308.3 95.8,308 87.8,296.1" fill="url(#g313)" stroke="url(#g313)"/><polygon points="86.7,308.3 87.8,296.1 78.6,296.1" fill="url(#g314)" stroke="url(#g314)"/><polygon points="77.5,308.6 86.7,308.3 78.6,296.1" fill="url(#g315)" stroke="url(#g315)"/><polygon points="77.5,308.6 78.6,296.1 69.5,296.1" fill="url(#g316)" stroke="url(#g316)"/><polygon points="68.4,308.9 77.5,308.6 69.5,296.1" fill="url(#g317)" stroke="url(#g317)"/><polygon points="68.4,308.9 69.5,296.1 60.4,296.2" fill="url(#g318)" stroke="url(#g318)"/><polygon points="94.7,320.6 103.8,320 95.8,308" fill="url(#g319)" stroke="url(#g319)"/><polygon points="94.7,320.6 95.8,308 86.7,308.3" fill="url(#g320)" stroke="url(#g320)"/><polygon points="85.6,321.1 94.7,320.6 86.7,308.3" fill="url(#g321)" stroke="url(#g321)"/><polygon points="85.6,321.1 86.7,308.3 77.5,308.6" fill="url(#g322)" stroke="url(#g322)"/><polygon points="76.5,321.7 85.6,321.1 77.5,308.6" fill="url(#g323)" stroke="url(#g323)"/><polygon points="76.5,321.7 77.5,308.6 68.4,308.9" fill="url(#g324)" stroke="url(#g324)"/><polygon points="151.4,305.6 157.5,302.2 149.5,303.2" fill="url(#g325)" stroke="url(#g325)"/><polygon points="151.4,305.6 149.5,303.2 143.4,306.3" fill="url(#g326)" stroke="url(#g326)"/><polygon points="145.3,308.9 151.4,305.6 143.4,306.3" fill="url(#g327)" stroke="url(#g327)"/><polygon points="145.3,308.9 143.4,306.3 137.3,309.3" fill="url(#g328)" stroke="url(#g328)"/><polygon points="139.3,312.3 145.3,308.9 137.3,309.3" fill="url(#g329)" stroke="url(#g329)"/><polygon points="139.3,312.3 137.3,309.3 131.2,312.4" fill="url(#g330)" stroke="url(#g330)"/><polygon points="159.5,304.9 165.6,301.3 157.5,302.2" fill="url(#g331)" stroke="url(#g331)"/><polygon points="159.5,304.9 157.5,302.2 151.4,305.6" fill="url(#g332)" stroke="url(#g332)"/><polygon points="153.4,308.5 159.5,304.9 151.4,305.6" fill="url(#g333)" stroke="url(#g333)"/><polygon points="153.4,308.5 151.4,305.6 145.3,308.9" fill="url(#g334)" stroke="url(#g334)"/><polygon points="147.3,312.2 153.4,308.5 145.3,308.9" fill="url(#g335)" stroke="url(#g335)"/><polygon points="147.3,312.2 145.3,308.9 139.3,312.3" fill="url(#g336)" stroke="url(#g336)"/><polygon points="167.5,304.2 173.6,300.3 165.6,301.3" fill="url(#g337)" stroke="url(#g337)"/><polygon points="167.5,304.2 165.6,301.3 159.5,304.9" fill="url(#g338)" stroke="url(#g338)"/><polygon points="161.4,308.1 167.5,304.2 159.5,304.9" fill="url(#g339)" stroke="url(#g339)"/><polygon points="161.4,308.1 159.5,304.9 153.4,308.5" fill="url(#g340)" stroke="url(#g340)"/><polygon points="155.3,312 161.4,308.1 153.4,308.5" fill="url(#g341)" stroke="url(#g341)"/><polygon points="155.3,312 153.4,308.5 147.3,312.2" fill="url(#g342)" stroke="url(#g342)"/><polygon points="130.1,315.4 139.3,312.3 131.2,312.4" fill="url(#g343)" stroke="url(#g343)"/><polygon points="130.1,315.4 131.2,312.4 122.1,314.9" fill="url(#g344)" stroke="url(#g344)"/><polygon points="121,318.6 130.1,315.4 122.1,314.9" fill="url(#g345)" stroke="url(#g345)"/><polygon points="121,318.6 122.1,314.9 113,317.5" fill="url(#g346)" stroke="url(#g346)"/><polygon points="111.9,321.7 121,318.6 113,317.5" fill="url(#g347)" stroke="url(#g347)"/><polygon points="111.9,321.7 113,317.5 103.8,320" fill="url(#g348)" stroke="url(#g348)"/><polygon points="138.2,315.9 147.3,312.2 139.3,312.3" fill="url(#g349)" stroke="url(#g349)"/><polygon points="138.2,315.9 139.3,312.3 130.1,315.4" fill="url(#g350)" stroke="url(#g350)"/><polygon points="129.1,319.7 138.2,315.9 130.1,315.4" fill="url(#g351)" stroke="url(#g351)"/><polygon points="129.1,319.7 130.1,315.4 121,318.6" fill="url(#g352)" stroke="url(#g352)"/><polygon points="119.9,323.4 129.1,319.7 121,318.6" fill="url(#g353)" stroke="url(#g353)"/><polygon points="119.9,323.4 121,318.6 111.9,321.7" fill="url(#g354)" stroke="url(#g354)"/><polygon points="146.2,316.4 155.3,312 147.3,312.2" fill="url(#g355)" stroke="url(#g355)"/><polygon points="146.2,316.4 147.3,312.2 138.2,315.9" fill="url(#g356)" stroke="url(#g356)"/><polygon points="137.1,320.8 146.2,316.4 138.2,315.9" fill="url(#g357)" stroke="url(#g357)"/><polygon points="137.1,320.8 138.2,315.9 129.1,319.7" fill="url(#g358)" stroke="url(#g358)"/><polygon points="128,325.1 137.1,320.8 129.1,319.7" fill="url(#g359)" stroke="url(#g359)"/><polygon points="128,325.1 129.1,319.7 119.9,323.4" fill="url(#g360)" stroke="url(#g360)"/><polygon points="102.8,323.3 111.9,321.7 103.8,320" fill="url(#g361)" stroke="url(#g361)"/><polygon points="102.8,323.3 103.8,320 94.7,320.6" fill="url(#g362)" stroke="url(#g362)"/><polygon points="93.6,324.9 102.8,323.3 94.7,320.6" fill="url(#g363)" stroke="url(#g363)"/><polygon points="93.6,324.9 94.7,320.6 85.6,321.1" fill="url(#g364)" stroke="url(#g364)"/><polygon points="84.5,326.5 93.6,324.9 85.6,321.1" fill="url(#g365)" stroke="url(#g365)"/><polygon points="84.5,326.5 85.6,321.1 76.5,321.7" fill="url(#g366)" stroke="url(#g366)"/><polygon points="110.8,326.1 119.9,323.4 111.9,321.7" fill="url(#g367)" stroke="url(#g367)"/><polygon points="110.8,326.1 111.9,321.7 102.8,323.3" fill="url(#g368)" stroke="url(#g368)"/><polygon points="101.7,328.7 110.8,326.1 102.8,323.3" fill="url(#g369)" stroke="url(#g369)"/><polygon points="101.7,328.7 102.8,323.3 93.6,324.9" fill="url(#g370)" stroke="url(#g370)"/><polygon points="92.6,331.3 101.7,328.7 93.6,324.9" fill="url(#g371)" stroke="url(#g371)"/><polygon points="92.6,331.3 93.6,324.9 84.5,326.5" fill="url(#g372)" stroke="url(#g372)"/><polygon points="118.8,328.8 128,325.1 119.9,323.4" fill="url(#g373)" stroke="url(#g373)"/><polygon points="118.8,328.8 119.9,323.4 110.8,326.1" fill="url(#g374)" stroke="url(#g374)"/><polygon points="109.7,332.4 118.8,328.8 110.8,326.1" fill="url(#g375)" stroke="url(#g375)"/><polygon points="109.7,332.4 110.8,326.1 101.7,328.7" fill="url(#g376)" stroke="url(#g376)"/><polygon points="100.6,336.1 109.7,332.4 101.7,328.7" fill="url(#g377)" stroke="url(#g377)"/><polygon points="100.6,336.1 101.7,328.7 92.6,331.3" fill="url(#g378)" stroke="url(#g378)"/></g>
<text x="23.4" y="329.9" font-size="9.6" text-anchor="end">1.2</text>
<text x="23.4" y="313.3" font-size="9.6" text-anchor="end">1.4</text>
<text x="23.4" y="296.8" font-size="9.6" text-anchor="end">1.6</text>
<text x="23.4" y="280.2" font-size="9.6" text-anchor="end">1.8</text>
<text x="23.4" y="263.7" font-size="9.6" text-anchor="end">2.0</text>
<text x="23.4" y="247.1" font-size="9.6" text-anchor="end">2.2</text>
<text x="108.5" y="374.3" font-size="9.6" text-anchor="middle">20</text>
<text x="134.9" y="362.5" font-size="9.6" text-anchor="middle">50</text>
<text x="161.4" y="348.6" font-size="9.6" text-anchor="middle">80</text>
<text x="182.3" y="341.8" font-size="9.6" text-anchor="middle">100</text>
<text x="93.2" y="374.3" font-size="9.6" text-anchor="middle">0</text>
<text x="69" y="363" font-size="9.6" text-anchor="middle">10</text>
<text x="43.6" y="352" font-size="9.6" text-anchor="middle">20</text>
<text x="18.6" y="341.3" font-size="9.6" text-anchor="middle">30</text>
<text x="9" y="273.7" font-size="9.8" text-anchor="middle" transform="rotate(-90 9 273.7)">Total PGA amplification factor</text>
<text x="153.7" y="364.6" font-size="9.8" text-anchor="middle" transform="rotate(-25.2 153.7 364.6)">Canyon width (m)</text>
<text x="35.8" y="359.8" font-size="9.4" text-anchor="middle" transform="rotate(27 35.8 359.8)">Incident angles (°)</text>
<text x="158.5" y="222.4" font-size="9.6" text-anchor="start">R1</text>
<rect x="197.1" y="213.3" width="8.5" height="152.2" fill="url(#jv)" stroke="#444" stroke-width="0.4"/>
<text x="208.2" y="234.2" font-size="9.6" text-anchor="start">2.1</text>
<text x="208.2" y="252.5" font-size="9.6" text-anchor="start">2.0</text>
<text x="208.2" y="270.7" font-size="9.6" text-anchor="start">1.9</text>
<text x="208.2" y="288.9" font-size="9.6" text-anchor="start">1.8</text>
<text x="208.2" y="307.2" font-size="9.6" text-anchor="start">1.7</text>
<text x="208.2" y="325.4" font-size="9.6" text-anchor="start">1.6</text>
<text x="208.2" y="343.7" font-size="9.6" text-anchor="start">1.5</text>
<text x="208.2" y="361.9" font-size="9.6" text-anchor="start">1.4</text>
<path d="M205.6 232.4l-1.3 0M205.6 250.7l-1.3 0M205.6 268.9l-1.3 0M205.6 287.1l-1.3 0M205.6 305.4l-1.3 0M205.6 323.6l-1.3 0M205.6 341.9l-1.3 0M205.6 360.1l-1.3 0" stroke="#333" stroke-width="0.5"/>
</g>
<g id="R3">
<path d="M316.3 363L260.6 320.8M260.6 320.8L260.6 236.5M348.7 354.8L293 312.6M293 312.6L293 228.3M381.1 346.6L325.4 304.4M325.4 304.4L325.4 220.1M413.5 338.4L357.8 296.2M357.8 296.2L357.8 211.9M316.3 363L413.5 338.4M413.5 338.4L413.5 254.1M295.4 347.2L392.6 322.6M392.6 322.6L392.6 238.3M274.5 331.4L371.7 306.8M371.7 306.8L371.7 222.4M260.6 320.8L357.8 296.2M357.8 296.2L357.8 211.9M260.6 318.5L357.8 293.9M357.8 293.9L413.5 336.1M260.6 298L357.8 273.4M357.8 273.4L413.5 315.6M260.6 277.5L357.8 252.9M357.8 252.9L413.5 295.1M260.6 257L357.8 232.4M357.8 232.4L413.5 274.6M260.6 236.5L357.8 211.9M357.8 211.9L413.5 254.1" stroke="#e9e9e9" stroke-width="0.7" fill="none"/>
<path d="M260.6 320.8L260.6 236.5M316.3 363L413.5 338.4M316.3 363L260.6 320.8M260.6 318.5l-1.8 0M260.6 298l-1.8 0M260.6 277.5l-1.8 0M260.6 257l-1.8 0M260.6 236.5l-1.8 0M316.3 363l0.5 1.7M348.7 354.8l0.5 1.7M381.1 346.6l0.5 1.7M413.5 338.4l0.5 1.7M316.3 363l-1.2 1.4M295.4 347.2l-1.2 1.4M274.5 331.4l-1.2 1.4M260.6 320.8l-1.2 1.4" stroke="#969696" stroke-width="0.7" fill="none"/>
<defs><linearGradient id="g379" href="#jet" x1="316.4" y1="297.8" x2="365.6" y2="223.8"/><linearGradient id="g380" href="#jet" x1="315.8" y1="297" x2="365.8" y2="224.1"/><linearGradient id="g381" href="#jet" x1="318.2" y1="298.9" x2="368.3" y2="225.8"/><linearGradient id="g382" href="#jet" x1="317.9" y1="298.4" x2="368.8" y2="226.4"/><linearGradient id="g383" href="#jet" x1="320.6" y1="300.5" x2="371.6" y2="228.2"/><linearGradient id="g384" href="#jet" x1="320.4" y1="300.2" x2="372.2" y2="229.2"/><linearGradient id="g385" href="#jet" x1="321.4" y1="301.5" x2="370.7" y2="227.2"/><linearGradient id="g386" href="#jet" x1="320.8" y1="300.7" x2="370.9" y2="227.5"/><linearGradient id="g387" href="#jet" x1="323.1" y1="302.5" x2="373.4" y2="229.1"/><linearGradient id="g388" href="#jet" x1="322.8" y1="302" x2="373.8" y2="229.7"/><linearGradient id="g389" href="#jet" x1="325.3" y1="304" x2="376.6" y2="231.5"/><linearGradient id="g390" href="#jet" x1="325.2" y1="303.8" x2="377.2" y2="232.4"/><linearGradient id="g391" href="#jet" x1="326.4" y1="305.2" x2="375.8" y2="230.6"/><linearGradient id="g392" href="#jet" x1="325.8" y1="304.4" x2="376.1" y2="230.9"/><linearGradient id="g393" href="#jet" x1="328" y1="306.2" x2="378.4" y2="232.4"/><linearGradient id="g394" href="#jet" x1="327.6" y1="305.6" x2="378.9" y2="233.1"/><linearGradient id="g395" href="#jet" x1="330.1" y1="307.6" x2="381.5" y2="234.7"/><linearGradient id="g396" href="#jet" x1="330" y1="307.4" x2="382.2" y2="235.7"/><linearGradient id="g397" href="#jet" x1="307.8" y1="312.1" x2="405.4" y2="162.6"/><linearGradient id="g398" href="#jet" x1="306.3" y1="310.7" x2="416.3" y2="172.8"/><linearGradient id="g399" href="#jet" x1="302.7" y1="309.1" x2="418.2" y2="164.9"/><linearGradient id="g400" href="#jet" x1="302.2" y1="308.3" x2="429" y2="179.8"/><linearGradient id="g401" href="#jet" x1="300.1" y1="306.9" x2="434.7" y2="173.1"/><linearGradient id="g402" href="#jet" x1="300.3" y1="307.3" x2="443.6" y2="193.4"/><linearGradient id="g403" href="#jet" x1="311.8" y1="316.6" x2="413.3" y2="159.7"/><linearGradient id="g404" href="#jet" x1="310.2" y1="315.1" x2="425.6" y2="170.9"/><linearGradient id="g405" href="#jet" x1="306.4" y1="313.4" x2="428.1" y2="162.1"/><linearGradient id="g406" href="#jet" x1="305.6" y1="312.5" x2="440.2" y2="178.7"/><linearGradient id="g407" href="#jet" x1="303.5" y1="311.1" x2="447.1" y2="171.4"/><linearGradient id="g408" href="#jet" x1="303.5" y1="311.2" x2="456.7" y2="194.4"/><linearGradient id="g409" href="#jet" x1="315.8" y1="321.2" x2="421.5" y2="155.8"/><linearGradient id="g410" href="#jet" x1="313.9" y1="319.5" x2="435.6" y2="168.2"/><linearGradient id="g411" href="#jet" x1="309.8" y1="317.9" x2="438.9" y2="158.3"/><linearGradient id="g412" href="#jet" x1="309" y1="316.7" x2="452.6" y2="177.1"/><linearGradient id="g413" href="#jet" x1="306.6" y1="315.3" x2="461" y2="169.1"/><linearGradient id="g414" href="#jet" x1="306.6" y1="315.3" x2="471.3" y2="195.4"/><linearGradient id="g415" href="#jet" x1="287.7" y1="304.7" x2="274.8" y2="328.8"/><linearGradient id="g416" href="#jet" x1="287.5" y1="304.9" x2="278.1" y2="325.9"/><linearGradient id="g417" href="#jet" x1="292.4" y1="307" x2="281.2" y2="327.6"/><linearGradient id="g418" href="#jet" x1="333.8" y1="310.7" x2="383.5" y2="235.6"/><linearGradient id="g419" href="#jet" x1="333.3" y1="309.8" x2="383.7" y2="236"/><linearGradient id="g420" href="#jet" x1="335.3" y1="311.6" x2="386" y2="237.4"/><linearGradient id="g421" href="#jet" x1="335" y1="311" x2="386.4" y2="238.1"/><linearGradient id="g422" href="#jet" x1="337.3" y1="312.9" x2="389" y2="239.6"/><linearGradient id="g423" href="#jet" x1="337.2" y1="312.7" x2="389.6" y2="240.7"/><linearGradient id="g424" href="#jet" x1="341.3" y1="316.2" x2="391.2" y2="240.7"/><linearGradient id="g425" href="#jet" x1="340.8" y1="315.3" x2="391.4" y2="241.1"/><linearGradient id="g426" href="#jet" x1="342.6" y1="317" x2="393.5" y2="242.3"/><linearGradient id="g427" href="#jet" x1="342.3" y1="316.4" x2="394" y2="243.1"/><linearGradient id="g428" href="#jet" x1="344.5" y1="318.3" x2="396.4" y2="244.5"/><linearGradient id="g429" href="#jet" x1="344.4" y1="318" x2="397" y2="245.6"/><linearGradient id="g430" href="#jet" x1="348.8" y1="321.7" x2="398.9" y2="245.7"/><linearGradient id="g431" href="#jet" x1="348.2" y1="320.8" x2="399.1" y2="246.2"/><linearGradient id="g432" href="#jet" x1="350" y1="322.5" x2="401.1" y2="247.3"/><linearGradient id="g433" href="#jet" x1="349.6" y1="321.9" x2="401.6" y2="248.1"/><linearGradient id="g434" href="#jet" x1="351.7" y1="323.6" x2="403.9" y2="249.3"/><linearGradient id="g435" href="#jet" x1="351.5" y1="323.3" x2="404.5" y2="250.5"/><linearGradient id="g436" href="#jet" x1="321.7" y1="328.5" x2="434.8" y2="147.7"/><linearGradient id="g437" href="#jet" x1="319.8" y1="326" x2="448.8" y2="166.3"/><linearGradient id="g438" href="#jet" x1="314.8" y1="325" x2="457.2" y2="150.2"/><linearGradient id="g439" href="#jet" x1="313.9" y1="323.1" x2="468.4" y2="176.8"/><linearGradient id="g440" href="#jet" x1="310.8" y1="322" x2="485.8" y2="164.1"/><linearGradient id="g441" href="#jet" x1="310.7" y1="321.4" x2="489.3" y2="198.7"/><linearGradient id="g442" href="#jet" x1="327.4" y1="336.5" x2="449.5" y2="135.6"/><linearGradient id="g443" href="#jet" x1="324.8" y1="333.3" x2="467.3" y2="158.4"/><linearGradient id="g444" href="#jet" x1="319.1" y1="332.8" x2="479.5" y2="138.2"/><linearGradient id="g445" href="#jet" x1="317.9" y1="329.9" x2="493" y2="172.1"/><linearGradient id="g446" href="#jet" x1="314.1" y1="329.1" x2="517.6" y2="157.3"/><linearGradient id="g447" href="#jet" x1="314" y1="327.6" x2="519" y2="201.6"/><linearGradient id="g448" href="#jet" x1="332.7" y1="345.3" x2="466.1" y2="117.8"/><linearGradient id="g449" href="#jet" x1="329.3" y1="341.2" x2="489.7" y2="146.6"/><linearGradient id="g450" href="#jet" x1="322.5" y1="341.5" x2="507.8" y2="120.2"/><linearGradient id="g451" href="#jet" x1="320.9" y1="337.2" x2="524.4" y2="165.4"/><linearGradient id="g452" href="#jet" x1="315.9" y1="336.8" x2="561" y2="148.5"/><linearGradient id="g453" href="#jet" x1="316.1" y1="333.7" x2="556.9" y2="207.5"/><linearGradient id="g454" href="#jet" x1="304" y1="313.3" x2="296.5" y2="326.6"/><linearGradient id="g455" href="#jet" x1="356.2" y1="327.3" x2="406.6" y2="250.7"/><linearGradient id="g456" href="#jet" x1="355.7" y1="326.4" x2="406.9" y2="251.2"/><linearGradient id="g457" href="#jet" x1="357.3" y1="327.9" x2="408.7" y2="252.2"/><linearGradient id="g458" href="#jet" x1="357" y1="327.3" x2="409.2" y2="253"/><linearGradient id="g459" href="#jet" x1="358.8" y1="328.9" x2="411.3" y2="254.1"/><linearGradient id="g460" href="#jet" x1="358.7" y1="328.7" x2="412" y2="255.4"/><linearGradient id="g461" href="#jet" x1="363.7" y1="332.8" x2="414.3" y2="255.7"/><linearGradient id="g462" href="#jet" x1="363.2" y1="331.9" x2="414.6" y2="256.2"/><linearGradient id="g463" href="#jet" x1="364.6" y1="333.3" x2="416.3" y2="257.1"/><linearGradient id="g464" href="#jet" x1="364.3" y1="332.7" x2="416.8" y2="258"/><linearGradient id="g465" href="#jet" x1="366" y1="334.2" x2="418.8" y2="258.9"/><linearGradient id="g466" href="#jet" x1="365.9" y1="334" x2="419.5" y2="260.2"/><linearGradient id="g467" href="#jet" x1="371.2" y1="338.3" x2="422" y2="260.6"/><linearGradient id="g468" href="#jet" x1="370.7" y1="337.4" x2="422.4" y2="261.2"/><linearGradient id="g469" href="#jet" x1="371.9" y1="338.7" x2="423.9" y2="261.9"/><linearGradient id="g470" href="#jet" x1="371.6" y1="338.2" x2="424.4" y2="262.9"/><linearGradient id="g471" href="#jet" x1="373.2" y1="339.6" x2="426.3" y2="263.7"/><linearGradient id="g472" href="#jet" x1="373.1" y1="339.3" x2="427" y2="265"/><linearGradient id="g473" href="#jet" x1="333.5" y1="367" x2="502.5" y2="30.4"/><linearGradient id="g474" href="#jet" x1="321.5" y1="345.3" x2="578.8" y2="169.1"/><linearGradient id="g475" href="#jet" x1="292.3" y1="344.1" x2="766.7" y2="180.3"/><linearGradient id="g476" href="#jet" x1="314.3" y1="325" x2="592.4" y2="331.6"/><linearGradient id="g477" href="#jet" x1="311.1" y1="316.2" x2="576.3" y2="471.7"/><linearGradient id="g478" href="#jet" x1="320.7" y1="322.4" x2="478.8" y2="408.5"/><linearGradient id="g479" href="#jet" x1="336.7" y1="429.8" x2="519.8" y2="-283.2"/><linearGradient id="g480" href="#jet" x1="294.2" y1="349.8" x2="768.7" y2="186"/><linearGradient id="g481" href="#jet" x1="263.3" y1="260.2" x2="911.3" y2="761.5"/><linearGradient id="g482" href="#jet" x1="316" y1="307.8" x2="581.3" y2="463.4"/><linearGradient id="g483" href="#jet" x1="327.1" y1="303.8" x2="440.2" y2="525.4"/><linearGradient id="g484" href="#jet" x1="328.6" y1="316.9" x2="430" y2="437.2"/><linearGradient id="g485" href="#jet" x1="598" y1="349.5" x2="-863.6" y2="228"/><linearGradient id="g486" href="#jet" x1="269.3" y1="252.4" x2="917.3" y2="753.7"/><linearGradient id="g487" href="#jet" x1="363.8" y1="266.8" x2="337.6" y2="671.7"/><linearGradient id="g488" href="#jet" x1="341.1" y1="296.6" x2="454.2" y2="518.2"/><linearGradient id="g489" href="#jet" x1="346" y1="307.1" x2="361.8" y2="471"/><linearGradient id="g490" href="#jet" x1="341.1" y1="316" x2="385.8" y2="427.7"/><linearGradient id="g491" href="#jet" x1="311.8" y1="322.4" x2="315.9" y2="311.7"/><linearGradient id="g492" href="#jet" x1="311.8" y1="322.7" x2="315.9" y2="311"/><linearGradient id="g493" href="#jet" x1="300.3" y1="319" x2="304.9" y2="306.1"/><linearGradient id="g494" href="#jet" x1="300.4" y1="319.4" x2="304.8" y2="305.6"/><linearGradient id="g495" href="#jet" x1="329.9" y1="329" x2="334" y2="319.3"/><linearGradient id="g496" href="#jet" x1="329.9" y1="329.3" x2="334" y2="318.6"/><linearGradient id="g497" href="#jet" x1="318.4" y1="325.1" x2="323" y2="313.2"/><linearGradient id="g498" href="#jet" x1="318.4" y1="325.5" x2="323" y2="312.6"/><linearGradient id="g499" href="#jet" x1="306.7" y1="321.7" x2="311.9" y2="307.7"/><linearGradient id="g500" href="#jet" x1="306.8" y1="322.2" x2="311.8" y2="307.2"/><linearGradient id="g501" href="#jet" x1="336.5" y1="332" x2="341.2" y2="321"/><linearGradient id="g502" href="#jet" x1="336.5" y1="332.3" x2="341.2" y2="320.3"/><linearGradient id="g503" href="#jet" x1="324.8" y1="328" x2="330.1" y2="314.9"/><linearGradient id="g504" href="#jet" x1="324.9" y1="328.4" x2="330" y2="314.4"/><linearGradient id="g505" href="#jet" x1="313.1" y1="324.5" x2="318.8" y2="309.4"/><linearGradient id="g506" href="#jet" x1="313.2" y1="325" x2="318.7" y2="309"/></defs>
<g stroke-width="1" stroke-linejoin="round"><polygon points="351.6,244.8 362.4,223.6 357.8,219.3" fill="url(#g379)" stroke="url(#g379)"/><polygon points="351.6,244.8 357.8,219.3 347,240.6" fill="url(#g380)" stroke="url(#g380)"/><polygon points="340.8,265.9 351.6,244.8 347,240.6" fill="url(#g381)" stroke="url(#g381)"/><polygon points="340.8,265.9 347,240.6 336.2,262" fill="url(#g382)" stroke="url(#g382)"/><polygon points="330,287 340.8,265.9 336.2,262" fill="url(#g383)" stroke="url(#g383)"/><polygon points="330,287 336.2,262 325.4,283.3" fill="url(#g384)" stroke="url(#g384)"/><polygon points="356.3,248.9 367.1,227.9 362.4,223.6" fill="url(#g385)" stroke="url(#g385)"/><polygon points="356.3,248.9 362.4,223.6 351.6,244.8" fill="url(#g386)" stroke="url(#g386)"/><polygon points="345.5,269.8 356.3,248.9 351.6,244.8" fill="url(#g387)" stroke="url(#g387)"/><polygon points="345.5,269.8 351.6,244.8 340.8,265.9" fill="url(#g388)" stroke="url(#g388)"/><polygon points="334.7,290.8 345.5,269.8 340.8,265.9" fill="url(#g389)" stroke="url(#g389)"/><polygon points="334.7,290.8 340.8,265.9 330,287" fill="url(#g390)" stroke="url(#g390)"/><polygon points="360.9,253 371.7,232.2 367.1,227.9" fill="url(#g391)" stroke="url(#g391)"/><polygon points="360.9,253 367.1,227.9 356.3,248.9" fill="url(#g392)" stroke="url(#g392)"/><polygon points="350.1,273.8 360.9,253 356.3,248.9" fill="url(#g393)" stroke="url(#g393)"/><polygon points="350.1,273.8 356.3,248.9 345.5,269.8" fill="url(#g394)" stroke="url(#g394)"/><polygon points="339.3,294.6 350.1,273.8 345.5,269.8" fill="url(#g395)" stroke="url(#g395)"/><polygon points="339.3,294.6 345.5,269.8 334.7,290.8" fill="url(#g396)" stroke="url(#g396)"/><polygon points="319.2,294.5 330,287 325.4,283.3" fill="url(#g397)" stroke="url(#g397)"/><polygon points="319.2,294.5 325.4,283.3 314.6,291.1" fill="url(#g398)" stroke="url(#g398)"/><polygon points="308.4,301.9 319.2,294.5 314.6,291.1" fill="url(#g399)" stroke="url(#g399)"/><polygon points="308.4,301.9 314.6,291.1 303.8,298.8" fill="url(#g400)" stroke="url(#g400)"/><polygon points="297.6,309.4 308.4,301.9 303.8,298.8" fill="url(#g401)" stroke="url(#g401)"/><polygon points="297.6,309.4 303.8,298.8 293,306.6" fill="url(#g402)" stroke="url(#g402)"/><polygon points="323.9,297.9 334.7,290.8 330,287" fill="url(#g403)" stroke="url(#g403)"/><polygon points="323.9,297.9 330,287 319.2,294.5" fill="url(#g404)" stroke="url(#g404)"/><polygon points="313.1,305.1 323.9,297.9 319.2,294.5" fill="url(#g405)" stroke="url(#g405)"/><polygon points="313.1,305.1 319.2,294.5 308.4,301.9" fill="url(#g406)" stroke="url(#g406)"/><polygon points="302.3,312.2 313.1,305.1 308.4,301.9" fill="url(#g407)" stroke="url(#g407)"/><polygon points="302.3,312.2 308.4,301.9 297.6,309.4" fill="url(#g408)" stroke="url(#g408)"/><polygon points="328.5,301.4 339.3,294.6 334.7,290.8" fill="url(#g409)" stroke="url(#g409)"/><polygon points="328.5,301.4 334.7,290.8 323.9,297.9" fill="url(#g410)" stroke="url(#g410)"/><polygon points="317.7,308.2 328.5,301.4 323.9,297.9" fill="url(#g411)" stroke="url(#g411)"/><polygon points="317.7,308.2 323.9,297.9 313.1,305.1" fill="url(#g412)" stroke="url(#g412)"/><polygon points="306.9,315 317.7,308.2 313.1,305.1" fill="url(#g413)" stroke="url(#g413)"/><polygon points="306.9,315 313.1,305.1 302.3,312.2" fill="url(#g414)" stroke="url(#g414)"/><polygon points="286.8,306.3 297.6,309.4 293,306.6" fill="url(#g415)" stroke="url(#g415)"/><polygon points="286.8,306.3 293,306.6 282.2,303.8" fill="url(#g416)" stroke="url(#g416)"/><polygon points="276,303.1 286.8,306.3 282.2,303.8" fill="#0000db" stroke="#0000db"/><polygon points="276,303.1 282.2,303.8 271.4,301" fill="#0000f1" stroke="#0000f1"/><polygon points="265.2,300 276,303.1 271.4,301" fill="#0031ff" stroke="#0031ff"/><polygon points="265.2,300 271.4,301 260.6,298.2" fill="#0045ff" stroke="#0045ff"/><polygon points="291.5,308.7 302.3,312.2 297.6,309.4" fill="url(#g417)" stroke="url(#g417)"/><polygon points="291.5,308.7 297.6,309.4 286.8,306.3" fill="#0000ab" stroke="#0000ab"/><polygon points="280.7,305.2 291.5,308.7 286.8,306.3" fill="#0000ec" stroke="#0000ec"/><polygon points="280.7,305.2 286.8,306.3 276,303.1" fill="#0005ff" stroke="#0005ff"/><polygon points="269.9,301.7 280.7,305.2 276,303.1" fill="#0047ff" stroke="#0047ff"/><polygon points="269.9,301.7 276,303.1 265.2,300" fill="#005dff" stroke="#005dff"/><polygon points="296.1,311.2 306.9,315 302.3,312.2" fill="#00009e" stroke="#00009e"/><polygon points="296.1,311.2 302.3,312.2 291.5,308.7" fill="#0000b9" stroke="#0000b9"/><polygon points="285.3,307.3 296.1,311.2 291.5,308.7" fill="#0000fd" stroke="#0000fd"/><polygon points="285.3,307.3 291.5,308.7 280.7,305.2" fill="#0018ff" stroke="#0018ff"/><polygon points="274.5,303.5 285.3,307.3 280.7,305.2" fill="#005dff" stroke="#005dff"/><polygon points="274.5,303.5 280.7,305.2 269.9,301.7" fill="#0075ff" stroke="#0075ff"/><polygon points="367.9,259.2 378.7,238.7 371.7,232.2" fill="url(#g418)" stroke="url(#g418)"/><polygon points="367.9,259.2 371.7,232.2 360.9,253" fill="url(#g419)" stroke="url(#g419)"/><polygon points="357.1,279.7 367.9,259.2 360.9,253" fill="url(#g420)" stroke="url(#g420)"/><polygon points="357.1,279.7 360.9,253 350.1,273.8" fill="url(#g421)" stroke="url(#g421)"/><polygon points="346.3,300.2 357.1,279.7 350.1,273.8" fill="url(#g422)" stroke="url(#g422)"/><polygon points="346.3,300.2 350.1,273.8 339.3,294.6" fill="url(#g423)" stroke="url(#g423)"/><polygon points="374.9,265.4 385.6,245.2 378.7,238.7" fill="url(#g424)" stroke="url(#g424)"/><polygon points="374.9,265.4 378.7,238.7 367.9,259.2" fill="url(#g425)" stroke="url(#g425)"/><polygon points="364,285.6 374.9,265.4 367.9,259.2" fill="url(#g426)" stroke="url(#g426)"/><polygon points="364,285.6 367.9,259.2 357.1,279.7" fill="url(#g427)" stroke="url(#g427)"/><polygon points="353.2,305.8 364,285.6 357.1,279.7" fill="url(#g428)" stroke="url(#g428)"/><polygon points="353.2,305.8 357.1,279.7 346.3,300.2" fill="url(#g429)" stroke="url(#g429)"/><polygon points="381.8,271.6 392.6,251.7 385.6,245.2" fill="url(#g430)" stroke="url(#g430)"/><polygon points="381.8,271.6 385.6,245.2 374.9,265.4" fill="url(#g431)" stroke="url(#g431)"/><polygon points="371,291.5 381.8,271.6 374.9,265.4" fill="url(#g432)" stroke="url(#g432)"/><polygon points="371,291.5 374.9,265.4 364,285.6" fill="url(#g433)" stroke="url(#g433)"/><polygon points="360.2,311.4 371,291.5 364,285.6" fill="url(#g434)" stroke="url(#g434)"/><polygon points="360.2,311.4 364,285.6 353.2,305.8" fill="url(#g435)" stroke="url(#g435)"/><polygon points="335.5,306.5 346.3,300.2 339.3,294.6" fill="url(#g436)" stroke="url(#g436)"/><polygon points="335.5,306.5 339.3,294.6 328.5,301.4" fill="url(#g437)" stroke="url(#g437)"/><polygon points="324.7,312.9 335.5,306.5 328.5,301.4" fill="url(#g438)" stroke="url(#g438)"/><polygon points="324.7,312.9 328.5,301.4 317.7,308.2" fill="url(#g439)" stroke="url(#g439)"/><polygon points="313.9,319.2 324.7,312.9 317.7,308.2" fill="url(#g440)" stroke="url(#g440)"/><polygon points="313.9,319.2 317.7,308.2 306.9,315" fill="url(#g441)" stroke="url(#g441)"/><polygon points="342.5,311.7 353.2,305.8 346.3,300.2" fill="url(#g442)" stroke="url(#g442)"/><polygon points="342.5,311.7 346.3,300.2 335.5,306.5" fill="url(#g443)" stroke="url(#g443)"/><polygon points="331.6,317.5 342.5,311.7 335.5,306.5" fill="url(#g444)" stroke="url(#g444)"/><polygon points="331.6,317.5 335.5,306.5 324.7,312.9" fill="url(#g445)" stroke="url(#g445)"/><polygon points="320.9,323.4 331.6,317.5 324.7,312.9" fill="url(#g446)" stroke="url(#g446)"/><polygon points="320.9,323.4 324.7,312.9 313.9,319.2" fill="url(#g447)" stroke="url(#g447)"/><polygon points="349.4,316.8 360.2,311.4 353.2,305.8" fill="url(#g448)" stroke="url(#g448)"/><polygon points="349.4,316.8 353.2,305.8 342.5,311.7" fill="url(#g449)" stroke="url(#g449)"/><polygon points="338.6,322.2 349.4,316.8 342.5,311.7" fill="url(#g450)" stroke="url(#g450)"/><polygon points="338.6,322.2 342.5,311.7 331.6,317.5" fill="url(#g451)" stroke="url(#g451)"/><polygon points="327.8,327.6 338.6,322.2 331.6,317.5" fill="url(#g452)" stroke="url(#g452)"/><polygon points="327.8,327.6 331.6,317.5 320.9,323.4" fill="url(#g453)" stroke="url(#g453)"/><polygon points="303.1,314.9 313.9,319.2 306.9,315" fill="url(#g454)" stroke="url(#g454)"/><polygon points="303.1,314.9 306.9,315 296.1,311.2" fill="#0000ca" stroke="#0000ca"/><polygon points="292.3,310.6 303.1,314.9 296.1,311.2" fill="#0015ff" stroke="#0015ff"/><polygon points="292.3,310.6 296.1,311.2 285.3,307.3" fill="#002eff" stroke="#002eff"/><polygon points="281.5,306.3 292.3,310.6 285.3,307.3" fill="#007aff" stroke="#007aff"/><polygon points="281.5,306.3 285.3,307.3 274.5,303.5" fill="#0091ff" stroke="#0091ff"/><polygon points="310,318.6 320.9,323.4 313.9,319.2" fill="#0000c1" stroke="#0000c1"/><polygon points="310,318.6 313.9,319.2 303.1,314.9" fill="#0000de" stroke="#0000de"/><polygon points="299.2,313.8 310,318.6 303.1,314.9" fill="#002eff" stroke="#002eff"/><polygon points="299.2,313.8 303.1,314.9 292.3,310.6" fill="#0049ff" stroke="#0049ff"/><polygon points="288.5,309 299.2,313.8 292.3,310.6" fill="#009bff" stroke="#009bff"/><polygon points="288.5,309 292.3,310.6 281.5,306.3" fill="#00b3ff" stroke="#00b3ff"/><polygon points="317,322.3 327.8,327.6 320.9,323.4" fill="#0000d3" stroke="#0000d3"/><polygon points="317,322.3 320.9,323.4 310,318.6" fill="#0000f3" stroke="#0000f3"/><polygon points="306.2,317.1 317,322.3 310,318.6" fill="#0047ff" stroke="#0047ff"/><polygon points="306.2,317.1 310,318.6 299.2,313.8" fill="#0065ff" stroke="#0065ff"/><polygon points="295.4,311.8 306.2,317.1 299.2,313.8" fill="#00bbff" stroke="#00bbff"/><polygon points="295.4,311.8 299.2,313.8 288.5,309" fill="#00d6ff" stroke="#00d6ff"/><polygon points="388.8,277.8 399.6,258.2 392.6,251.7" fill="url(#g455)" stroke="url(#g455)"/><polygon points="388.8,277.8 392.6,251.7 381.8,271.6" fill="url(#g456)" stroke="url(#g456)"/><polygon points="378,297.4 388.8,277.8 381.8,271.6" fill="url(#g457)" stroke="url(#g457)"/><polygon points="378,297.4 381.8,271.6 371,291.5" fill="url(#g458)" stroke="url(#g458)"/><polygon points="367.2,317.1 378,297.4 371,291.5" fill="url(#g459)" stroke="url(#g459)"/><polygon points="367.2,317.1 371,291.5 360.2,311.4" fill="url(#g460)" stroke="url(#g460)"/><polygon points="395.7,284 406.5,264.6 399.6,258.2" fill="url(#g461)" stroke="url(#g461)"/><polygon points="395.7,284 399.6,258.2 388.8,277.8" fill="url(#g462)" stroke="url(#g462)"/><polygon points="384.9,303.3 395.7,284 388.8,277.8" fill="url(#g463)" stroke="url(#g463)"/><polygon points="384.9,303.3 388.8,277.8 378,297.4" fill="url(#g464)" stroke="url(#g464)"/><polygon points="374.1,322.7 384.9,303.3 378,297.4" fill="url(#g465)" stroke="url(#g465)"/><polygon points="374.1,322.7 378,297.4 367.2,317.1" fill="url(#g466)" stroke="url(#g466)"/><polygon points="402.7,290.2 413.5,271.1 406.5,264.6" fill="url(#g467)" stroke="url(#g467)"/><polygon points="402.7,290.2 406.5,264.6 395.7,284" fill="url(#g468)" stroke="url(#g468)"/><polygon points="391.9,309.2 402.7,290.2 395.7,284" fill="url(#g469)" stroke="url(#g469)"/><polygon points="391.9,309.2 395.7,284 384.9,303.3" fill="url(#g470)" stroke="url(#g470)"/><polygon points="381.1,328.3 391.9,309.2 384.9,303.3" fill="url(#g471)" stroke="url(#g471)"/><polygon points="381.1,328.3 384.9,303.3 374.1,322.7" fill="url(#g472)" stroke="url(#g472)"/><polygon points="356.4,321.4 367.2,317.1 360.2,311.4" fill="url(#g473)" stroke="url(#g473)"/><polygon points="356.4,321.4 360.2,311.4 349.4,316.8" fill="url(#g474)" stroke="url(#g474)"/><polygon points="345.6,325.7 356.4,321.4 349.4,316.8" fill="url(#g475)" stroke="url(#g475)"/><polygon points="345.6,325.7 349.4,316.8 338.6,322.2" fill="url(#g476)" stroke="url(#g476)"/><polygon points="334.8,330.1 345.6,325.7 338.6,322.2" fill="url(#g477)" stroke="url(#g477)"/><polygon points="334.8,330.1 338.6,322.2 327.8,327.6" fill="url(#g478)" stroke="url(#g478)"/><polygon points="363.3,326 374.1,322.7 367.2,317.1" fill="url(#g479)" stroke="url(#g479)"/><polygon points="363.3,326 367.2,317.1 356.4,321.4" fill="url(#g480)" stroke="url(#g480)"/><polygon points="352.5,329.2 363.3,326 356.4,321.4" fill="url(#g481)" stroke="url(#g481)"/><polygon points="352.5,329.2 356.4,321.4 345.6,325.7" fill="url(#g482)" stroke="url(#g482)"/><polygon points="341.7,332.5 352.5,329.2 345.6,325.7" fill="url(#g483)" stroke="url(#g483)"/><polygon points="341.7,332.5 345.6,325.7 334.8,330.1" fill="url(#g484)" stroke="url(#g484)"/><polygon points="370.3,330.5 381.1,328.3 374.1,322.7" fill="url(#g485)" stroke="url(#g485)"/><polygon points="370.3,330.5 374.1,322.7 363.3,326" fill="url(#g486)" stroke="url(#g486)"/><polygon points="359.5,332.8 370.3,330.5 363.3,326" fill="url(#g487)" stroke="url(#g487)"/><polygon points="359.5,332.8 363.3,326 352.5,329.2" fill="url(#g488)" stroke="url(#g488)"/><polygon points="348.7,335 359.5,332.8 352.5,329.2" fill="url(#g489)" stroke="url(#g489)"/><polygon points="348.7,335 352.5,329.2 341.7,332.5" fill="url(#g490)" stroke="url(#g490)"/><polygon points="324,324.4 334.8,330.1 327.8,327.6" fill="#0000f6" stroke="#0000f6"/><polygon points="324,324.4 327.8,327.6 317,322.3" fill="#0010ff" stroke="#0010ff"/><polygon points="313.2,318.8 324,324.4 317,322.3" fill="url(#g491)" stroke="url(#g491)"/><polygon points="313.2,318.8 317,322.3 306.2,317.1" fill="url(#g492)" stroke="url(#g492)"/><polygon points="302.4,313.2 313.2,318.8 306.2,317.1" fill="url(#g493)" stroke="url(#g493)"/><polygon points="302.4,313.2 306.2,317.1 295.4,311.8" fill="url(#g494)" stroke="url(#g494)"/><polygon points="330.9,326.6 341.7,332.5 334.8,330.1" fill="url(#g495)" stroke="url(#g495)"/><polygon points="330.9,326.6 334.8,330.1 324,324.4" fill="url(#g496)" stroke="url(#g496)"/><polygon points="320.1,320.6 330.9,326.6 324,324.4" fill="url(#g497)" stroke="url(#g497)"/><polygon points="320.1,320.6 324,324.4 313.2,318.8" fill="url(#g498)" stroke="url(#g498)"/><polygon points="309.3,314.6 320.1,320.6 313.2,318.8" fill="url(#g499)" stroke="url(#g499)"/><polygon points="309.3,314.6 313.2,318.8 302.4,313.2" fill="url(#g500)" stroke="url(#g500)"/><polygon points="337.9,328.7 348.7,335 341.7,332.5" fill="url(#g501)" stroke="url(#g501)"/><polygon points="337.9,328.7 341.7,332.5 330.9,326.6" fill="url(#g502)" stroke="url(#g502)"/><polygon points="327.1,322.3 337.9,328.7 330.9,326.6" fill="url(#g503)" stroke="url(#g503)"/><polygon points="327.1,322.3 330.9,326.6 320.1,320.6" fill="url(#g504)" stroke="url(#g504)"/><polygon points="316.3,316 327.1,322.3 320.1,320.6" fill="url(#g505)" stroke="url(#g505)"/><polygon points="316.3,316 320.1,320.6 309.3,314.6" fill="url(#g506)" stroke="url(#g506)"/></g>
<text x="257.2" y="318.6" font-size="9.6" text-anchor="end">1.2</text>
<text x="257.2" y="298.5" font-size="9.6" text-anchor="end">1.4</text>
<text x="257.2" y="278.4" font-size="9.6" text-anchor="end">1.6</text>
<text x="257.2" y="258.3" font-size="9.6" text-anchor="end">1.8</text>
<text x="257.2" y="238.2" font-size="9.6" text-anchor="end">2.0</text>
<text x="324.9" y="375.4" font-size="9.6" text-anchor="middle" transform="rotate(-13 324.9 372.1)">30</text>
<text x="356.8" y="367" font-size="9.6" text-anchor="middle" transform="rotate(-13 356.8 363.7)">20</text>
<text x="387.8" y="357.8" font-size="9.6" text-anchor="middle" transform="rotate(-13 387.8 354.5)">10</text>
<text x="418.3" y="349.6" font-size="9.6" text-anchor="middle" transform="rotate(-13 418.3 346.3)">0</text>
<text x="305.6" y="371.2" font-size="9.6" text-anchor="middle">20</text>
<text x="286.7" y="355.2" font-size="9.6" text-anchor="middle">50</text>
<text x="265.7" y="339.9" font-size="9.6" text-anchor="middle">80</text>
<text x="250.3" y="328.7" font-size="9.6" text-anchor="middle">100</text>
<text x="240.5" y="268" font-size="9.8" text-anchor="middle" transform="rotate(-90 240.5 268)">Total PGA amplification factor</text>
<text x="381.8" y="371.7" font-size="9.4" text-anchor="middle" transform="rotate(-12.8 381.8 371.7)">Incident angles (°)</text>
<text x="264.6" y="358.3" font-size="9.5" text-anchor="middle" transform="rotate(37.7 264.6 358.3)">Canyon width (m)</text>
<text x="387.6" y="221.8" font-size="9.6" text-anchor="start">R3</text>
<rect x="427.8" y="213.3" width="8.4" height="147.8" fill="url(#jv)" stroke="#444" stroke-width="0.4"/>
<text x="438.8" y="223.6" font-size="9.6" text-anchor="start">1.9</text>
<text x="438.8" y="245.6" font-size="9.6" text-anchor="start">1.8</text>
<text x="438.8" y="267.5" font-size="9.6" text-anchor="start">1.7</text>
<text x="438.8" y="289.4" font-size="9.6" text-anchor="start">1.6</text>
<text x="438.8" y="311.4" font-size="9.6" text-anchor="start">1.5</text>
<text x="438.8" y="333.4" font-size="9.6" text-anchor="start">1.4</text>
<text x="438.8" y="355.3" font-size="9.6" text-anchor="start">1.3</text>
<path d="M436.2 221.8l-1.3 0M436.2 243.8l-1.3 0M436.2 265.7l-1.3 0M436.2 287.6l-1.3 0M436.2 309.6l-1.3 0M436.2 331.6l-1.3 0M436.2 353.5l-1.3 0" stroke="#333" stroke-width="0.5"/>
</g>
<g id="R5">
<path d="M550.8 363.2L494.8 321M494.8 321L494.8 236.6M583.1 355.1L527.1 312.9M527.1 312.9L527.1 228.5M615.5 346.9L559.5 304.7M559.5 304.7L559.5 220.3M647.8 338.8L591.8 296.6M591.8 296.6L591.8 212.2M550.8 363.2L647.8 338.8M647.8 338.8L647.8 254.4M529.8 347.4L626.8 323M626.8 323L626.8 238.6M508.8 331.6L605.8 307.2M605.8 307.2L605.8 222.8M494.8 321L591.8 296.6M591.8 296.6L591.8 212.2M494.8 321L591.8 296.6M591.8 296.6L647.8 338.8M494.8 306.9L591.8 282.5M591.8 282.5L647.8 324.7M494.8 292.9L591.8 268.5M591.8 268.5L647.8 310.7M494.8 278.8L591.8 254.4M591.8 254.4L647.8 296.6M494.8 264.7L591.8 240.3M591.8 240.3L647.8 282.5M494.8 250.7L591.8 226.3M591.8 226.3L647.8 268.5M494.8 236.6L591.8 212.2M591.8 212.2L647.8 254.4" stroke="#e9e9e9" stroke-width="0.7" fill="none"/>
<path d="M494.8 321L494.8 236.6M550.8 363.2L647.8 338.8M550.8 363.2L494.8 321M494.8 321l-1.8 0M494.8 306.9l-1.8 0M494.8 292.9l-1.8 0M494.8 278.8l-1.8 0M494.8 264.7l-1.8 0M494.8 250.7l-1.8 0M494.8 236.6l-1.8 0M550.8 363.2l0.5 1.7M583.1 355.1l0.5 1.7M615.5 346.9l0.5 1.7M647.8 338.8l0.5 1.7M550.8 363.2l-1.2 1.4M529.8 347.4l-1.2 1.4M508.8 331.6l-1.2 1.4M494.8 321l-1.2 1.4" stroke="#969696" stroke-width="0.7" fill="none"/>
<defs><linearGradient id="g507" href="#jet" x1="546.8" y1="298.5" x2="599.1" y2="221"/><linearGradient id="g508" href="#jet" x1="546.5" y1="298.1" x2="599.2" y2="221.1"/><linearGradient id="g509" href="#jet" x1="547.9" y1="299.3" x2="600.7" y2="222.1"/><linearGradient id="g510" href="#jet" x1="547.8" y1="299" x2="600.9" y2="222.3"/><linearGradient id="g511" href="#jet" x1="549.3" y1="300.2" x2="602.5" y2="223.4"/><linearGradient id="g512" href="#jet" x1="549.2" y1="300" x2="602.8" y2="223.7"/><linearGradient id="g513" href="#jet" x1="551.8" y1="302.1" x2="604.2" y2="224.4"/><linearGradient id="g514" href="#jet" x1="551.5" y1="301.7" x2="604.3" y2="224.5"/><linearGradient id="g515" href="#jet" x1="552.9" y1="302.8" x2="605.8" y2="225.5"/><linearGradient id="g516" href="#jet" x1="552.7" y1="302.6" x2="606" y2="225.7"/><linearGradient id="g517" href="#jet" x1="554.3" y1="303.7" x2="607.6" y2="226.7"/><linearGradient id="g518" href="#jet" x1="554.2" y1="303.6" x2="607.8" y2="227.1"/><linearGradient id="g519" href="#jet" x1="556.8" y1="305.6" x2="609.3" y2="227.8"/><linearGradient id="g520" href="#jet" x1="556.5" y1="305.3" x2="609.4" y2="228"/><linearGradient id="g521" href="#jet" x1="557.9" y1="306.3" x2="610.8" y2="228.9"/><linearGradient id="g522" href="#jet" x1="557.7" y1="306.1" x2="611" y2="229.1"/><linearGradient id="g523" href="#jet" x1="559.2" y1="307.2" x2="612.6" y2="230.1"/><linearGradient id="g524" href="#jet" x1="559.1" y1="307.1" x2="612.8" y2="230.5"/><linearGradient id="g525" href="#jet" x1="539.7" y1="309.8" x2="615.6" y2="191"/><linearGradient id="g526" href="#jet" x1="538.8" y1="308.9" x2="619.6" y2="194.7"/><linearGradient id="g527" href="#jet" x1="535.9" y1="307.5" x2="618.1" y2="190.9"/><linearGradient id="g528" href="#jet" x1="535.5" y1="307" x2="622.5" y2="195.8"/><linearGradient id="g529" href="#jet" x1="533.3" y1="305.6" x2="622.1" y2="192.1"/><linearGradient id="g530" href="#jet" x1="533.4" y1="305.8" x2="626.7" y2="198.4"/><linearGradient id="g531" href="#jet" x1="544.3" y1="313.6" x2="621.4" y2="192.3"/><linearGradient id="g532" href="#jet" x1="543.4" y1="312.8" x2="625.6" y2="196.2"/><linearGradient id="g533" href="#jet" x1="540.3" y1="311.3" x2="624.1" y2="192.2"/><linearGradient id="g534" href="#jet" x1="539.9" y1="310.8" x2="628.7" y2="197.3"/><linearGradient id="g535" href="#jet" x1="537.6" y1="309.3" x2="628.4" y2="193.4"/><linearGradient id="g536" href="#jet" x1="537.7" y1="309.4" x2="633.2" y2="199.9"/><linearGradient id="g537" href="#jet" x1="548.9" y1="317.5" x2="627.3" y2="193.5"/><linearGradient id="g538" href="#jet" x1="548" y1="316.6" x2="631.8" y2="197.6"/><linearGradient id="g539" href="#jet" x1="544.8" y1="315.1" x2="630.3" y2="193.3"/><linearGradient id="g540" href="#jet" x1="544.3" y1="314.6" x2="635.1" y2="198.6"/><linearGradient id="g541" href="#jet" x1="541.9" y1="313" x2="634.9" y2="194.5"/><linearGradient id="g542" href="#jet" x1="541.9" y1="313.1" x2="640" y2="201.4"/><linearGradient id="g543" href="#jet" x1="522.2" y1="305.6" x2="452.2" y2="440.3"/><linearGradient id="g544" href="#jet" x1="521.9" y1="305.6" x2="471.8" y2="436.2"/><linearGradient id="g545" href="#jet" x1="512.7" y1="302.2" x2="465.3" y2="418.7"/><linearGradient id="g546" href="#jet" x1="511.9" y1="302.5" x2="479.1" y2="412.8"/><linearGradient id="g547" href="#jet" x1="502.2" y1="299.9" x2="470.2" y2="399.2"/><linearGradient id="g548" href="#jet" x1="501.3" y1="300.5" x2="479.9" y2="393"/><linearGradient id="g549" href="#jet" x1="527.3" y1="307.9" x2="463" y2="427.8"/><linearGradient id="g550" href="#jet" x1="526.9" y1="307.9" x2="479.5" y2="424.5"/><linearGradient id="g551" href="#jet" x1="517.7" y1="304.4" x2="473.1" y2="408.8"/><linearGradient id="g552" href="#jet" x1="516.9" y1="304.7" x2="484.9" y2="403.9"/><linearGradient id="g553" href="#jet" x1="507.2" y1="302" x2="476.4" y2="391.5"/><linearGradient id="g554" href="#jet" x1="506.3" y1="302.6" x2="484.7" y2="386.2"/><linearGradient id="g555" href="#jet" x1="532.3" y1="310.3" x2="473.2" y2="417.7"/><linearGradient id="g556" href="#jet" x1="531.8" y1="310.4" x2="487.2" y2="414.9"/><linearGradient id="g557" href="#jet" x1="522.7" y1="306.7" x2="480.8" y2="400.7"/><linearGradient id="g558" href="#jet" x1="521.9" y1="307" x2="491" y2="396.5"/><linearGradient id="g559" href="#jet" x1="512.2" y1="304.2" x2="482.6" y2="385"/><linearGradient id="g560" href="#jet" x1="511.3" y1="304.8" x2="490" y2="380.6"/><linearGradient id="g561" href="#jet" x1="564.3" y1="311" x2="616.9" y2="232.9"/><linearGradient id="g562" href="#jet" x1="564.1" y1="310.6" x2="617" y2="233.1"/><linearGradient id="g563" href="#jet" x1="565.3" y1="311.6" x2="618.4" y2="234"/><linearGradient id="g564" href="#jet" x1="565.2" y1="311.4" x2="618.6" y2="234.3"/><linearGradient id="g565" href="#jet" x1="566.6" y1="312.5" x2="620.1" y2="235.2"/><linearGradient id="g566" href="#jet" x1="566.5" y1="312.3" x2="620.3" y2="235.6"/><linearGradient id="g567" href="#jet" x1="571.8" y1="316.3" x2="624.5" y2="238.1"/><linearGradient id="g568" href="#jet" x1="571.6" y1="315.9" x2="624.6" y2="238.2"/><linearGradient id="g569" href="#jet" x1="572.8" y1="316.9" x2="626" y2="239.1"/><linearGradient id="g570" href="#jet" x1="572.7" y1="316.7" x2="626.1" y2="239.4"/><linearGradient id="g571" href="#jet" x1="574" y1="317.8" x2="627.6" y2="240.2"/><linearGradient id="g572" href="#jet" x1="573.9" y1="317.6" x2="627.9" y2="240.7"/><linearGradient id="g573" href="#jet" x1="579.3" y1="321.6" x2="632.1" y2="243.2"/><linearGradient id="g574" href="#jet" x1="579.1" y1="321.2" x2="632.2" y2="243.4"/><linearGradient id="g575" href="#jet" x1="580.3" y1="322.2" x2="633.5" y2="244.2"/><linearGradient id="g576" href="#jet" x1="580.1" y1="322" x2="633.7" y2="244.5"/><linearGradient id="g577" href="#jet" x1="581.4" y1="323" x2="635.2" y2="245.3"/><linearGradient id="g578" href="#jet" x1="581.3" y1="322.9" x2="635.4" y2="245.7"/><linearGradient id="g579" href="#jet" x1="555.8" y1="323.4" x2="636.2" y2="194.9"/><linearGradient id="g580" href="#jet" x1="555" y1="322.2" x2="640.5" y2="200.4"/><linearGradient id="g581" href="#jet" x1="551.4" y1="320.8" x2="639.6" y2="194.6"/><linearGradient id="g582" href="#jet" x1="551" y1="320.1" x2="644" y2="201.6"/><linearGradient id="g583" href="#jet" x1="548.3" y1="318.6" x2="644.8" y2="195.9"/><linearGradient id="g584" href="#jet" x1="548.3" y1="318.6" x2="649" y2="204.6"/><linearGradient id="g585" href="#jet" x1="562.7" y1="329.3" x2="645.3" y2="195.9"/><linearGradient id="g586" href="#jet" x1="561.8" y1="328.1" x2="650" y2="201.9"/><linearGradient id="g587" href="#jet" x1="557.9" y1="326.6" x2="649.2" y2="195.5"/><linearGradient id="g588" href="#jet" x1="557.5" y1="325.9" x2="654" y2="203.1"/><linearGradient id="g589" href="#jet" x1="554.6" y1="324.3" x2="655.2" y2="196.7"/><linearGradient id="g590" href="#jet" x1="554.6" y1="324.2" x2="659.7" y2="206.2"/><linearGradient id="g591" href="#jet" x1="569.6" y1="335.3" x2="654.6" y2="196.3"/><linearGradient id="g592" href="#jet" x1="568.5" y1="334" x2="659.8" y2="202.8"/><linearGradient id="g593" href="#jet" x1="564.5" y1="332.5" x2="659.2" y2="195.8"/><linearGradient id="g594" href="#jet" x1="564" y1="331.7" x2="664.5" y2="204.1"/><linearGradient id="g595" href="#jet" x1="560.8" y1="330" x2="666" y2="197.1"/><linearGradient id="g596" href="#jet" x1="560.8" y1="329.9" x2="671" y2="207.5"/><linearGradient id="g597" href="#jet" x1="539.7" y1="314.2" x2="487.7" y2="405.7"/><linearGradient id="g598" href="#jet" x1="539.2" y1="314.1" x2="497.6" y2="407.8"/><linearGradient id="g599" href="#jet" x1="530" y1="310.4" x2="492.4" y2="390.7"/><linearGradient id="g600" href="#jet" x1="529.2" y1="310.4" x2="500" y2="390.9"/><linearGradient id="g601" href="#jet" x1="519.5" y1="307.7" x2="492.5" y2="376.9"/><linearGradient id="g602" href="#jet" x1="518.6" y1="307.9" x2="498.2" y2="376.1"/><linearGradient id="g603" href="#jet" x1="547" y1="318.3" x2="501.1" y2="396.9"/><linearGradient id="g604" href="#jet" x1="546.5" y1="318.2" x2="508.9" y2="398.5"/><linearGradient id="g605" href="#jet" x1="537.2" y1="314.4" x2="503.4" y2="383.5"/><linearGradient id="g606" href="#jet" x1="536.5" y1="314.4" x2="509.5" y2="383.6"/><linearGradient id="g607" href="#jet" x1="526.7" y1="311.5" x2="502" y2="371.1"/><linearGradient id="g608" href="#jet" x1="525.9" y1="311.6" x2="506.6" y2="370.4"/><linearGradient id="g609" href="#jet" x1="554.1" y1="322.5" x2="513.6" y2="390.4"/><linearGradient id="g610" href="#jet" x1="553.7" y1="322.4" x2="519.8" y2="391.5"/><linearGradient id="g611" href="#jet" x1="544.4" y1="318.5" x2="514.1" y2="378.2"/><linearGradient id="g612" href="#jet" x1="543.7" y1="318.5" x2="518.9" y2="378.2"/><linearGradient id="g613" href="#jet" x1="533.9" y1="315.3" x2="511.4" y2="366.9"/><linearGradient id="g614" href="#jet" x1="533.1" y1="315.5" x2="515.1" y2="366.3"/><linearGradient id="g615" href="#jet" x1="586.8" y1="327" x2="639.8" y2="248.3"/><linearGradient id="g616" href="#jet" x1="586.6" y1="326.6" x2="639.9" y2="248.5"/><linearGradient id="g617" href="#jet" x1="587.7" y1="327.5" x2="641.1" y2="249.2"/><linearGradient id="g618" href="#jet" x1="587.6" y1="327.3" x2="641.3" y2="249.5"/><linearGradient id="g619" href="#jet" x1="588.8" y1="328.3" x2="642.7" y2="250.3"/><linearGradient id="g620" href="#jet" x1="588.8" y1="328.1" x2="642.9" y2="250.8"/><linearGradient id="g621" href="#jet" x1="594.3" y1="332.3" x2="647.4" y2="253.4"/><linearGradient id="g622" href="#jet" x1="594.1" y1="331.9" x2="647.5" y2="253.6"/><linearGradient id="g623" href="#jet" x1="595.2" y1="332.8" x2="648.7" y2="254.3"/><linearGradient id="g624" href="#jet" x1="595" y1="332.6" x2="648.9" y2="254.6"/><linearGradient id="g625" href="#jet" x1="596.3" y1="333.5" x2="650.2" y2="255.4"/><linearGradient id="g626" href="#jet" x1="596.2" y1="333.4" x2="650.5" y2="255.8"/><linearGradient id="g627" href="#jet" x1="601.9" y1="337.6" x2="655" y2="258.5"/><linearGradient id="g628" href="#jet" x1="601.6" y1="337.2" x2="655.2" y2="258.7"/><linearGradient id="g629" href="#jet" x1="602.7" y1="338.1" x2="656.3" y2="259.4"/><linearGradient id="g630" href="#jet" x1="602.5" y1="337.9" x2="656.5" y2="259.7"/><linearGradient id="g631" href="#jet" x1="603.7" y1="338.8" x2="657.8" y2="260.4"/><linearGradient id="g632" href="#jet" x1="603.6" y1="338.7" x2="658" y2="260.9"/><linearGradient id="g633" href="#jet" x1="576.4" y1="341.4" x2="664" y2="196.1"/><linearGradient id="g634" href="#jet" x1="575.3" y1="340" x2="670" y2="203.2"/><linearGradient id="g635" href="#jet" x1="571" y1="338.5" x2="669.5" y2="195.4"/><linearGradient id="g636" href="#jet" x1="570.4" y1="337.5" x2="675.5" y2="204.6"/><linearGradient id="g637" href="#jet" x1="567" y1="335.8" x2="677.4" y2="196.7"/><linearGradient id="g638" href="#jet" x1="566.9" y1="335.6" x2="683" y2="208.4"/><linearGradient id="g639" href="#jet" x1="583.3" y1="347.5" x2="673.7" y2="195.1"/><linearGradient id="g640" href="#jet" x1="582" y1="346.1" x2="680.5" y2="203"/><linearGradient id="g641" href="#jet" x1="577.4" y1="344.6" x2="680.3" y2="194.1"/><linearGradient id="g642" href="#jet" x1="576.7" y1="343.5" x2="687.1" y2="204.4"/><linearGradient id="g643" href="#jet" x1="573.1" y1="341.8" x2="689.6" y2="195.6"/><linearGradient id="g644" href="#jet" x1="573" y1="341.4" x2="695.8" y2="208.6"/><linearGradient id="g645" href="#jet" x1="590.1" y1="353.9" x2="683.7" y2="193.1"/><linearGradient id="g646" href="#jet" x1="588.6" y1="352.2" x2="691.5" y2="201.8"/><linearGradient id="g647" href="#jet" x1="583.7" y1="350.8" x2="691.6" y2="191.9"/><linearGradient id="g648" href="#jet" x1="582.9" y1="349.6" x2="699.4" y2="203.4"/><linearGradient id="g649" href="#jet" x1="579.1" y1="347.8" x2="702.7" y2="193.4"/><linearGradient id="g650" href="#jet" x1="578.9" y1="347.3" x2="709.7" y2="208.2"/><linearGradient id="g651" href="#jet" x1="561.1" y1="326.9" x2="527.9" y2="381"/><linearGradient id="g652" href="#jet" x1="560.5" y1="326.8" x2="535.1" y2="381.7"/><linearGradient id="g653" href="#jet" x1="550.7" y1="323.2" x2="529.4" y2="366.7"/><linearGradient id="g654" href="#jet" x1="549.9" y1="323.3" x2="534.4" y2="365.7"/><linearGradient id="g655" href="#jet" x1="539.6" y1="320.7" x2="526.4" y2="354"/><linearGradient id="g656" href="#jet" x1="538.7" y1="321.2" x2="529.6" y2="352.4"/><linearGradient id="g657" href="#jet" x1="568" y1="331.4" x2="540.8" y2="374.8"/><linearGradient id="g658" href="#jet" x1="567.5" y1="331.4" x2="546.1" y2="374.8"/><linearGradient id="g659" href="#jet" x1="557.6" y1="327.4" x2="540" y2="361.8"/><linearGradient id="g660" href="#jet" x1="556.8" y1="327.6" x2="543.6" y2="360.8"/><linearGradient id="g661" href="#jet" x1="546.5" y1="324.6" x2="535.6" y2="350.4"/><linearGradient id="g662" href="#jet" x1="545.7" y1="325.1" x2="537.9" y2="349"/><linearGradient id="g663" href="#jet" x1="574.9" y1="335.9" x2="552.7" y2="370.7"/><linearGradient id="g664" href="#jet" x1="574.4" y1="336" x2="556.7" y2="370.4"/><linearGradient id="g665" href="#jet" x1="564.4" y1="331.7" x2="550" y2="358.7"/><linearGradient id="g666" href="#jet" x1="563.7" y1="331.9" x2="552.8" y2="357.7"/><linearGradient id="g667" href="#jet" x1="553.2" y1="328.7" x2="544.5" y2="348.1"/><linearGradient id="g668" href="#jet" x1="552.5" y1="329.1" x2="546.2" y2="346.9"/></defs>
<g stroke-width="1" stroke-linejoin="round"><polygon points="585.7,240.9 596.5,221.9 591.8,217.8" fill="url(#g507)" stroke="url(#g507)"/><polygon points="585.7,240.9 591.8,217.8 581,236.8" fill="url(#g508)" stroke="url(#g508)"/><polygon points="574.9,259.8 585.7,240.9 581,236.8" fill="url(#g509)" stroke="url(#g509)"/><polygon points="574.9,259.8 581,236.8 570.2,255.9" fill="url(#g510)" stroke="url(#g510)"/><polygon points="564.1,278.8 574.9,259.8 570.2,255.9" fill="url(#g511)" stroke="url(#g511)"/><polygon points="564.1,278.8 570.2,255.9 559.5,274.9" fill="url(#g512)" stroke="url(#g512)"/><polygon points="590.4,244.9 601.1,226 596.5,221.9" fill="url(#g513)" stroke="url(#g513)"/><polygon points="590.4,244.9 596.5,221.9 585.7,240.9" fill="url(#g514)" stroke="url(#g514)"/><polygon points="579.6,263.8 590.4,244.9 585.7,240.9" fill="url(#g515)" stroke="url(#g515)"/><polygon points="579.6,263.8 585.7,240.9 574.9,259.8" fill="url(#g516)" stroke="url(#g516)"/><polygon points="568.8,282.7 579.6,263.8 574.9,259.8" fill="url(#g517)" stroke="url(#g517)"/><polygon points="568.8,282.7 574.9,259.8 564.1,278.8" fill="url(#g518)" stroke="url(#g518)"/><polygon points="595,249 605.8,230.1 601.1,226" fill="url(#g519)" stroke="url(#g519)"/><polygon points="595,249 601.1,226 590.4,244.9" fill="url(#g520)" stroke="url(#g520)"/><polygon points="584.2,267.8 595,249 590.4,244.9" fill="url(#g521)" stroke="url(#g521)"/><polygon points="584.2,267.8 590.4,244.9 579.6,263.8" fill="url(#g522)" stroke="url(#g522)"/><polygon points="573.5,286.6 584.2,267.8 579.6,263.8" fill="url(#g523)" stroke="url(#g523)"/><polygon points="573.5,286.6 579.6,263.8 568.8,282.7" fill="url(#g524)" stroke="url(#g524)"/><polygon points="553.4,288.4 564.1,278.8 559.5,274.9" fill="url(#g525)" stroke="url(#g525)"/><polygon points="553.4,288.4 559.5,274.9 548.7,284.7" fill="url(#g526)" stroke="url(#g526)"/><polygon points="542.6,298 553.4,288.4 548.7,284.7" fill="url(#g527)" stroke="url(#g527)"/><polygon points="542.6,298 548.7,284.7 537.9,294.6" fill="url(#g528)" stroke="url(#g528)"/><polygon points="531.8,307.6 542.6,298 537.9,294.6" fill="url(#g529)" stroke="url(#g529)"/><polygon points="531.8,307.6 537.9,294.6 527.1,304.4" fill="url(#g530)" stroke="url(#g530)"/><polygon points="558,292.1 568.8,282.7 564.1,278.8" fill="url(#g531)" stroke="url(#g531)"/><polygon points="558,292.1 564.1,278.8 553.4,288.4" fill="url(#g532)" stroke="url(#g532)"/><polygon points="547.2,301.4 558,292.1 553.4,288.4" fill="url(#g533)" stroke="url(#g533)"/><polygon points="547.2,301.4 553.4,288.4 542.6,298" fill="url(#g534)" stroke="url(#g534)"/><polygon points="536.5,310.8 547.2,301.4 542.6,298" fill="url(#g535)" stroke="url(#g535)"/><polygon points="536.5,310.8 542.6,298 531.8,307.6" fill="url(#g536)" stroke="url(#g536)"/><polygon points="562.7,295.7 573.5,286.6 568.8,282.7" fill="url(#g537)" stroke="url(#g537)"/><polygon points="562.7,295.7 568.8,282.7 558,292.1" fill="url(#g538)" stroke="url(#g538)"/><polygon points="551.9,304.9 562.7,295.7 558,292.1" fill="url(#g539)" stroke="url(#g539)"/><polygon points="551.9,304.9 558,292.1 547.2,301.4" fill="url(#g540)" stroke="url(#g540)"/><polygon points="541.1,314 551.9,304.9 547.2,301.4" fill="url(#g541)" stroke="url(#g541)"/><polygon points="541.1,314 547.2,301.4 536.5,310.8" fill="url(#g542)" stroke="url(#g542)"/><polygon points="521,307.9 531.8,307.6 527.1,304.4" fill="url(#g543)" stroke="url(#g543)"/><polygon points="521,307.9 527.1,304.4 516.4,304.9" fill="url(#g544)" stroke="url(#g544)"/><polygon points="510.2,308.2 521,307.9 516.4,304.9" fill="url(#g545)" stroke="url(#g545)"/><polygon points="510.2,308.2 516.4,304.9 505.6,305.5" fill="url(#g546)" stroke="url(#g546)"/><polygon points="499.5,308.5 510.2,308.2 505.6,305.5" fill="url(#g547)" stroke="url(#g547)"/><polygon points="499.5,308.5 505.6,305.5 494.8,306" fill="url(#g548)" stroke="url(#g548)"/><polygon points="525.7,310.9 536.5,310.8 531.8,307.6" fill="url(#g549)" stroke="url(#g549)"/><polygon points="525.7,310.9 531.8,307.6 521,307.9" fill="url(#g550)" stroke="url(#g550)"/><polygon points="514.9,310.9 525.7,310.9 521,307.9" fill="url(#g551)" stroke="url(#g551)"/><polygon points="514.9,310.9 521,307.9 510.2,308.2" fill="url(#g552)" stroke="url(#g552)"/><polygon points="504.1,311 514.9,310.9 510.2,308.2" fill="url(#g553)" stroke="url(#g553)"/><polygon points="504.1,311 510.2,308.2 499.5,308.5" fill="url(#g554)" stroke="url(#g554)"/><polygon points="530.4,313.8 541.1,314 536.5,310.8" fill="url(#g555)" stroke="url(#g555)"/><polygon points="530.4,313.8 536.5,310.8 525.7,310.9" fill="url(#g556)" stroke="url(#g556)"/><polygon points="519.6,313.7 530.4,313.8 525.7,310.9" fill="url(#g557)" stroke="url(#g557)"/><polygon points="519.6,313.7 525.7,310.9 514.9,310.9" fill="url(#g558)" stroke="url(#g558)"/><polygon points="508.8,313.5 519.6,313.7 514.9,310.9" fill="url(#g559)" stroke="url(#g559)"/><polygon points="508.8,313.5 514.9,310.9 504.1,311" fill="url(#g560)" stroke="url(#g560)"/><polygon points="602,255 612.8,236.3 605.8,230.1" fill="url(#g561)" stroke="url(#g561)"/><polygon points="602,255 605.8,230.1 595,249" fill="url(#g562)" stroke="url(#g562)"/><polygon points="591.2,273.7 602,255 595,249" fill="url(#g563)" stroke="url(#g563)"/><polygon points="591.2,273.7 595,249 584.2,267.8" fill="url(#g564)" stroke="url(#g564)"/><polygon points="580.5,292.4 591.2,273.7 584.2,267.8" fill="url(#g565)" stroke="url(#g565)"/><polygon points="580.5,292.4 584.2,267.8 573.5,286.6" fill="url(#g566)" stroke="url(#g566)"/><polygon points="609,261.1 619.8,242.5 612.8,236.3" fill="url(#g567)" stroke="url(#g567)"/><polygon points="609,261.1 612.8,236.3 602,255" fill="url(#g568)" stroke="url(#g568)"/><polygon points="598.2,279.7 609,261.1 602,255" fill="url(#g569)" stroke="url(#g569)"/><polygon points="598.2,279.7 602,255 591.2,273.7" fill="url(#g570)" stroke="url(#g570)"/><polygon points="587.5,298.3 598.2,279.7 591.2,273.7" fill="url(#g571)" stroke="url(#g571)"/><polygon points="587.5,298.3 591.2,273.7 580.5,292.4" fill="url(#g572)" stroke="url(#g572)"/><polygon points="616,267.1 626.8,248.6 619.8,242.5" fill="url(#g573)" stroke="url(#g573)"/><polygon points="616,267.1 619.8,242.5 609,261.1" fill="url(#g574)" stroke="url(#g574)"/><polygon points="605.2,285.6 616,267.1 609,261.1" fill="url(#g575)" stroke="url(#g575)"/><polygon points="605.2,285.6 609,261.1 598.2,279.7" fill="url(#g576)" stroke="url(#g576)"/><polygon points="594.5,304.1 605.2,285.6 598.2,279.7" fill="url(#g577)" stroke="url(#g577)"/><polygon points="594.5,304.1 598.2,279.7 587.5,298.3" fill="url(#g578)" stroke="url(#g578)"/><polygon points="569.7,301.2 580.5,292.4 573.5,286.6" fill="url(#g579)" stroke="url(#g579)"/><polygon points="569.7,301.2 573.5,286.6 562.7,295.7" fill="url(#g580)" stroke="url(#g580)"/><polygon points="558.9,310 569.7,301.2 562.7,295.7" fill="url(#g581)" stroke="url(#g581)"/><polygon points="558.9,310 562.7,295.7 551.9,304.9" fill="url(#g582)" stroke="url(#g582)"/><polygon points="548.1,318.8 558.9,310 551.9,304.9" fill="url(#g583)" stroke="url(#g583)"/><polygon points="548.1,318.8 551.9,304.9 541.1,314" fill="url(#g584)" stroke="url(#g584)"/><polygon points="576.7,306.7 587.5,298.3 580.5,292.4" fill="url(#g585)" stroke="url(#g585)"/><polygon points="576.7,306.7 580.5,292.4 569.7,301.2" fill="url(#g586)" stroke="url(#g586)"/><polygon points="565.9,315.2 576.7,306.7 569.7,301.2" fill="url(#g587)" stroke="url(#g587)"/><polygon points="565.9,315.2 569.7,301.2 558.9,310" fill="url(#g588)" stroke="url(#g588)"/><polygon points="555.1,323.6 565.9,315.2 558.9,310" fill="url(#g589)" stroke="url(#g589)"/><polygon points="555.1,323.6 558.9,310 548.1,318.8" fill="url(#g590)" stroke="url(#g590)"/><polygon points="583.7,312.2 594.5,304.1 587.5,298.3" fill="url(#g591)" stroke="url(#g591)"/><polygon points="583.7,312.2 587.5,298.3 576.7,306.7" fill="url(#g592)" stroke="url(#g592)"/><polygon points="572.9,320.3 583.7,312.2 576.7,306.7" fill="url(#g593)" stroke="url(#g593)"/><polygon points="572.9,320.3 576.7,306.7 565.9,315.2" fill="url(#g594)" stroke="url(#g594)"/><polygon points="562.1,328.4 572.9,320.3 565.9,315.2" fill="url(#g595)" stroke="url(#g595)"/><polygon points="562.1,328.4 565.9,315.2 555.1,323.6" fill="url(#g596)" stroke="url(#g596)"/><polygon points="537.4,318.3 548.1,318.8 541.1,314" fill="url(#g597)" stroke="url(#g597)"/><polygon points="537.4,318.3 541.1,314 530.4,313.8" fill="url(#g598)" stroke="url(#g598)"/><polygon points="526.6,317.8 537.4,318.3 530.4,313.8" fill="url(#g599)" stroke="url(#g599)"/><polygon points="526.6,317.8 530.4,313.8 519.6,313.7" fill="url(#g600)" stroke="url(#g600)"/><polygon points="515.8,317.2 526.6,317.8 519.6,313.7" fill="url(#g601)" stroke="url(#g601)"/><polygon points="515.8,317.2 519.6,313.7 508.8,313.5" fill="url(#g602)" stroke="url(#g602)"/><polygon points="544.4,322.7 555.1,323.6 548.1,318.8" fill="url(#g603)" stroke="url(#g603)"/><polygon points="544.4,322.7 548.1,318.8 537.4,318.3" fill="url(#g604)" stroke="url(#g604)"/><polygon points="533.6,321.8 544.4,322.7 537.4,318.3" fill="url(#g605)" stroke="url(#g605)"/><polygon points="533.6,321.8 537.4,318.3 526.6,317.8" fill="url(#g606)" stroke="url(#g606)"/><polygon points="522.8,321 533.6,321.8 526.6,317.8" fill="url(#g607)" stroke="url(#g607)"/><polygon points="522.8,321 526.6,317.8 515.8,317.2" fill="url(#g608)" stroke="url(#g608)"/><polygon points="551.4,327.2 562.1,328.4 555.1,323.6" fill="url(#g609)" stroke="url(#g609)"/><polygon points="551.4,327.2 555.1,323.6 544.4,322.7" fill="url(#g610)" stroke="url(#g610)"/><polygon points="540.6,325.9 551.4,327.2 544.4,322.7" fill="url(#g611)" stroke="url(#g611)"/><polygon points="540.6,325.9 544.4,322.7 533.6,321.8" fill="url(#g612)" stroke="url(#g612)"/><polygon points="529.8,324.7 540.6,325.9 533.6,321.8" fill="url(#g613)" stroke="url(#g613)"/><polygon points="529.8,324.7 533.6,321.8 522.8,321" fill="url(#g614)" stroke="url(#g614)"/><polygon points="623,273.2 633.8,254.8 626.8,248.6" fill="url(#g615)" stroke="url(#g615)"/><polygon points="623,273.2 626.8,248.6 616,267.1" fill="url(#g616)" stroke="url(#g616)"/><polygon points="612.2,291.6 623,273.2 616,267.1" fill="url(#g617)" stroke="url(#g617)"/><polygon points="612.2,291.6 616,267.1 605.2,285.6" fill="url(#g618)" stroke="url(#g618)"/><polygon points="601.5,310 612.2,291.6 605.2,285.6" fill="url(#g619)" stroke="url(#g619)"/><polygon points="601.5,310 605.2,285.6 594.5,304.1" fill="url(#g620)" stroke="url(#g620)"/><polygon points="630,279.2 640.8,260.9 633.8,254.8" fill="url(#g621)" stroke="url(#g621)"/><polygon points="630,279.2 633.8,254.8 623,273.2" fill="url(#g622)" stroke="url(#g622)"/><polygon points="619.2,297.5 630,279.2 623,273.2" fill="url(#g623)" stroke="url(#g623)"/><polygon points="619.2,297.5 623,273.2 612.2,291.6" fill="url(#g624)" stroke="url(#g624)"/><polygon points="608.5,315.9 619.2,297.5 612.2,291.6" fill="url(#g625)" stroke="url(#g625)"/><polygon points="608.5,315.9 612.2,291.6 601.5,310" fill="url(#g626)" stroke="url(#g626)"/><polygon points="637,285.3 647.8,267.1 640.8,260.9" fill="url(#g627)" stroke="url(#g627)"/><polygon points="637,285.3 640.8,260.9 630,279.2" fill="url(#g628)" stroke="url(#g628)"/><polygon points="626.2,303.5 637,285.3 630,279.2" fill="url(#g629)" stroke="url(#g629)"/><polygon points="626.2,303.5 630,279.2 619.2,297.5" fill="url(#g630)" stroke="url(#g630)"/><polygon points="615.5,321.7 626.2,303.5 619.2,297.5" fill="url(#g631)" stroke="url(#g631)"/><polygon points="615.5,321.7 619.2,297.5 608.5,315.9" fill="url(#g632)" stroke="url(#g632)"/><polygon points="590.7,317.7 601.5,310 594.5,304.1" fill="url(#g633)" stroke="url(#g633)"/><polygon points="590.7,317.7 594.5,304.1 583.7,312.2" fill="url(#g634)" stroke="url(#g634)"/><polygon points="579.9,325.5 590.7,317.7 583.7,312.2" fill="url(#g635)" stroke="url(#g635)"/><polygon points="579.9,325.5 583.7,312.2 572.9,320.3" fill="url(#g636)" stroke="url(#g636)"/><polygon points="569.1,333.2 579.9,325.5 572.9,320.3" fill="url(#g637)" stroke="url(#g637)"/><polygon points="569.1,333.2 572.9,320.3 562.1,328.4" fill="url(#g638)" stroke="url(#g638)"/><polygon points="597.7,323.2 608.5,315.9 601.5,310" fill="url(#g639)" stroke="url(#g639)"/><polygon points="597.7,323.2 601.5,310 590.7,317.7" fill="url(#g640)" stroke="url(#g640)"/><polygon points="586.9,330.6 597.7,323.2 590.7,317.7" fill="url(#g641)" stroke="url(#g641)"/><polygon points="586.9,330.6 590.7,317.7 579.9,325.5" fill="url(#g642)" stroke="url(#g642)"/><polygon points="576.1,338 586.9,330.6 579.9,325.5" fill="url(#g643)" stroke="url(#g643)"/><polygon points="576.1,338 579.9,325.5 569.1,333.2" fill="url(#g644)" stroke="url(#g644)"/><polygon points="604.7,328.7 615.5,321.7 608.5,315.9" fill="url(#g645)" stroke="url(#g645)"/><polygon points="604.7,328.7 608.5,315.9 597.7,323.2" fill="url(#g646)" stroke="url(#g646)"/><polygon points="593.9,335.8 604.7,328.7 597.7,323.2" fill="url(#g647)" stroke="url(#g647)"/><polygon points="593.9,335.8 597.7,323.2 586.9,330.6" fill="url(#g648)" stroke="url(#g648)"/><polygon points="583.1,342.8 593.9,335.8 586.9,330.6" fill="url(#g649)" stroke="url(#g649)"/><polygon points="583.1,342.8 586.9,330.6 576.1,338" fill="url(#g650)" stroke="url(#g650)"/><polygon points="558.4,331.4 569.1,333.2 562.1,328.4" fill="url(#g651)" stroke="url(#g651)"/><polygon points="558.4,331.4 562.1,328.4 551.4,327.2" fill="url(#g652)" stroke="url(#g652)"/><polygon points="547.6,329.6 558.4,331.4 551.4,327.2" fill="url(#g653)" stroke="url(#g653)"/><polygon points="547.6,329.6 551.4,327.2 540.6,325.9" fill="url(#g654)" stroke="url(#g654)"/><polygon points="536.8,327.8 547.6,329.6 540.6,325.9" fill="url(#g655)" stroke="url(#g655)"/><polygon points="536.8,327.8 540.6,325.9 529.8,324.7" fill="url(#g656)" stroke="url(#g656)"/><polygon points="565.4,335.6 576.1,338 569.1,333.2" fill="url(#g657)" stroke="url(#g657)"/><polygon points="565.4,335.6 569.1,333.2 558.4,331.4" fill="url(#g658)" stroke="url(#g658)"/><polygon points="554.6,333.3 565.4,335.6 558.4,331.4" fill="url(#g659)" stroke="url(#g659)"/><polygon points="554.6,333.3 558.4,331.4 547.6,329.6" fill="url(#g660)" stroke="url(#g660)"/><polygon points="543.8,330.9 554.6,333.3 547.6,329.6" fill="url(#g661)" stroke="url(#g661)"/><polygon points="543.8,330.9 547.6,329.6 536.8,327.8" fill="url(#g662)" stroke="url(#g662)"/><polygon points="572.4,339.9 583.1,342.8 576.1,338" fill="url(#g663)" stroke="url(#g663)"/><polygon points="572.4,339.9 576.1,338 565.4,335.6" fill="url(#g664)" stroke="url(#g664)"/><polygon points="561.6,336.9 572.4,339.9 565.4,335.6" fill="url(#g665)" stroke="url(#g665)"/><polygon points="561.6,336.9 565.4,335.6 554.6,333.3" fill="url(#g666)" stroke="url(#g666)"/><polygon points="550.8,334 561.6,336.9 554.6,333.3" fill="url(#g667)" stroke="url(#g667)"/><polygon points="550.8,334 554.6,333.3 543.8,330.9" fill="url(#g668)" stroke="url(#g668)"/></g>
<text x="490.4" y="320.2" font-size="9.6" text-anchor="end">1.0</text>
<text x="490.4" y="306.4" font-size="9.6" text-anchor="end">1.2</text>
<text x="490.4" y="292.7" font-size="9.6" text-anchor="end">1.4</text>
<text x="490.4" y="278.9" font-size="9.6" text-anchor="end">1.6</text>
<text x="490.4" y="265.2" font-size="9.6" text-anchor="end">1.8</text>
<text x="490.4" y="251.5" font-size="9.6" text-anchor="end">2.0</text>
<text x="490.4" y="237.7" font-size="9.6" text-anchor="end">2.2</text>
<text x="559" y="375.6" font-size="9.6" text-anchor="middle" transform="rotate(-13 559 372.3)">30</text>
<text x="589.1" y="367" font-size="9.6" text-anchor="middle" transform="rotate(-13 589.1 363.7)">20</text>
<text x="621.2" y="359.2" font-size="9.6" text-anchor="middle" transform="rotate(-13 621.2 355.9)">10</text>
<text x="652.2" y="349.6" font-size="9.6" text-anchor="middle" transform="rotate(-13 652.2 346.3)">0</text>
<text x="539.4" y="371.2" font-size="9.6" text-anchor="middle">20</text>
<text x="518.8" y="355.2" font-size="9.6" text-anchor="middle">50</text>
<text x="499.6" y="339.9" font-size="9.6" text-anchor="middle">80</text>
<text x="484.7" y="330.9" font-size="9.6" text-anchor="middle">100</text>
<text x="474" y="268" font-size="9.8" text-anchor="middle" transform="rotate(-90 474 268)">Total PGA amplification factor</text>
<text x="616" y="373.4" font-size="9.4" text-anchor="middle" transform="rotate(-12.8 616 373.4)">Incident angles (°)</text>
<text x="497.9" y="359.9" font-size="9.5" text-anchor="middle" transform="rotate(38.7 497.9 359.9)">Canyon width (m)</text>
<text x="622.6" y="221.8" font-size="9.6" text-anchor="start">R5</text>
<rect x="662" y="213.3" width="8.6" height="149" fill="url(#jv)" stroke="#444" stroke-width="0.4"/>
<text x="673.2" y="222" font-size="9.6" text-anchor="start">2.1</text>
<text x="673.2" y="237" font-size="9.6" text-anchor="start">2.0</text>
<text x="673.2" y="252" font-size="9.6" text-anchor="start">1.9</text>
<text x="673.2" y="267" font-size="9.6" text-anchor="start">1.8</text>
<text x="673.2" y="282" font-size="9.6" text-anchor="start">1.7</text>
<text x="673.2" y="297" font-size="9.6" text-anchor="start">1.6</text>
<text x="673.2" y="312" font-size="9.6" text-anchor="start">1.5</text>
<text x="673.2" y="327" font-size="9.6" text-anchor="start">1.4</text>
<text x="673.2" y="342" font-size="9.6" text-anchor="start">1.3</text>
<text x="673.2" y="357" font-size="9.6" text-anchor="start">1.2</text>
<path d="M670.6 220.2l-1.3 0M670.6 235.2l-1.3 0M670.6 250.2l-1.3 0M670.6 265.2l-1.3 0M670.6 280.2l-1.3 0M670.6 295.2l-1.3 0M670.6 310.2l-1.3 0M670.6 325.2l-1.3 0M670.6 340.2l-1.3 0M670.6 355.2l-1.3 0" stroke="#333" stroke-width="0.5"/>
</g>
<text x="38.5" y="10.2" font-size="12.5" font-weight="bold">(A)</text>
<text x="39" y="216.6" font-size="12.5" font-weight="bold">(B)</text>
<path d="M425.2 126.8L427.5 131" stroke="#aaa" stroke-width="0.7"/>
</svg>
</body></html>
